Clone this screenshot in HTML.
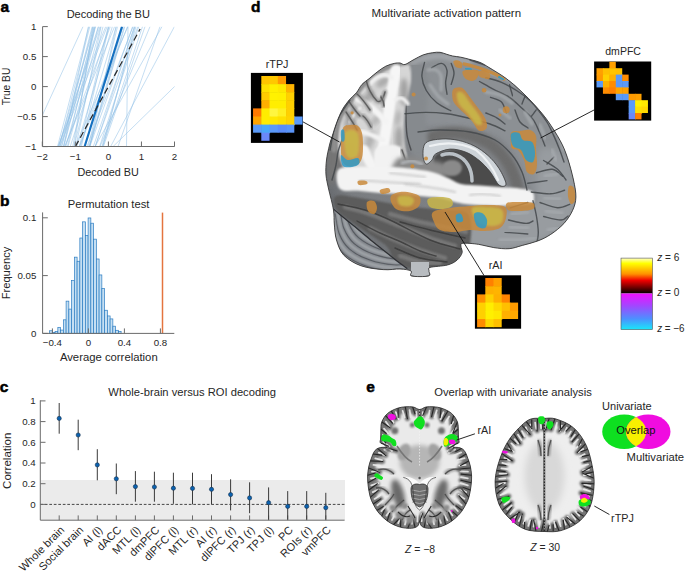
<!DOCTYPE html>
<html><head><meta charset="utf-8"><style>html,body{margin:0;padding:0;background:#fff;overflow:hidden;}svg{display:block}</style></head>
<body><svg width="685" height="571" viewBox="0 0 685 571" font-family="Liberation Sans, sans-serif">
<rect width="685" height="571" fill="#fff"/>
<g id="pa">
<text x="0.4" y="11.9" font-size="15.5" font-weight="bold" fill="#000" stroke="#000" stroke-width="0.5">a</text>
<text x="108.3" y="17.5" font-size="10.8" text-anchor="middle" fill="#262626" textLength="83.3" lengthAdjust="spacingAndGlyphs" >Decoding the BU</text>
<clipPath id="ca"><rect x="42.5" y="26.6" width="132.1" height="120"/></clipPath>
<g clip-path="url(#ca)" stroke="#8fc0e6" stroke-width="0.7" stroke-opacity="0.75" fill="none">
<line x1="79.3" y1="146.6" x2="108.2" y2="26.6"/>
<line x1="63.7" y1="146.6" x2="88.3" y2="26.6"/>
<line x1="57.5" y1="146.6" x2="88.9" y2="26.6"/>
<line x1="95.1" y1="146.6" x2="137.8" y2="26.6"/>
<line x1="89.5" y1="146.6" x2="116.2" y2="26.6"/>
<line x1="88.1" y1="146.6" x2="117.5" y2="26.6"/>
<line x1="63.8" y1="146.6" x2="95.3" y2="26.6"/>
<line x1="99.6" y1="146.6" x2="138.8" y2="26.6"/>
<line x1="59.8" y1="146.6" x2="98.4" y2="26.6"/>
<line x1="89.3" y1="146.6" x2="122.7" y2="26.6"/>
<line x1="72.8" y1="146.6" x2="94.0" y2="26.6"/>
<line x1="57.9" y1="146.6" x2="105.7" y2="26.6"/>
<line x1="59.9" y1="146.6" x2="107.1" y2="26.6"/>
<line x1="61.3" y1="146.6" x2="92.2" y2="26.6"/>
<line x1="103.4" y1="146.6" x2="145.0" y2="26.6"/>
<line x1="76.9" y1="146.6" x2="112.3" y2="26.6"/>
<line x1="63.3" y1="146.6" x2="95.0" y2="26.6"/>
<line x1="64.7" y1="146.6" x2="114.6" y2="26.6"/>
<line x1="89.8" y1="146.6" x2="132.6" y2="26.6"/>
<line x1="95.3" y1="146.6" x2="134.3" y2="26.6"/>
<line x1="75.8" y1="146.6" x2="101.1" y2="26.6"/>
<line x1="79.4" y1="146.6" x2="123.0" y2="26.6"/>
<line x1="75.1" y1="146.6" x2="127.9" y2="26.6"/>
<line x1="102.5" y1="146.6" x2="142.5" y2="26.6"/>
<line x1="102.9" y1="146.6" x2="135.0" y2="26.6"/>
<line x1="74.1" y1="146.6" x2="103.0" y2="26.6"/>
<line x1="89.4" y1="146.6" x2="124.2" y2="26.6"/>
<line x1="68.0" y1="146.6" x2="100.7" y2="26.6"/>
<line x1="74.1" y1="146.6" x2="92.9" y2="26.6"/>
<line x1="80.5" y1="146.6" x2="116.2" y2="26.6"/>
<line x1="58.3" y1="146.6" x2="100.0" y2="26.6"/>
<line x1="81.4" y1="146.6" x2="108.9" y2="26.6"/>
<line x1="67.4" y1="146.6" x2="95.5" y2="26.6"/>
<line x1="93.3" y1="146.6" x2="134.7" y2="26.6"/>
<line x1="61.8" y1="146.6" x2="92.9" y2="26.6"/>
<line x1="89.7" y1="146.6" x2="124.8" y2="26.6"/>
<line x1="58.7" y1="146.6" x2="94.2" y2="26.6"/>
<line x1="86.9" y1="146.6" x2="133.0" y2="26.6"/>
<line x1="59.4" y1="146.6" x2="89.8" y2="26.6"/>
<line x1="70.2" y1="146.6" x2="109.0" y2="26.6"/>
<line x1="79.4" y1="146.6" x2="127.5" y2="26.6"/>
<line x1="101.9" y1="146.6" x2="136.0" y2="26.6"/>
<line x1="64.9" y1="146.6" x2="110.3" y2="26.6"/>
<line x1="65.9" y1="146.6" x2="98.5" y2="26.6"/>
<line x1="28.0" y1="146.6" x2="83.0" y2="26.6"/>
<line x1="113.0" y1="146.6" x2="236.0" y2="26.6"/>
<line x1="110.6" y1="146.6" x2="174.4" y2="26.6"/>
<line x1="126.5" y1="146.6" x2="128.0" y2="26.6"/>
<line x1="118.0" y1="146.6" x2="160.0" y2="26.6"/>
<line x1="100.0" y1="146.6" x2="150.0" y2="26.6"/>
<line x1="95.0" y1="146.6" x2="162.0" y2="26.6"/>
</g>
<g clip-path="url(#ca)">
<line x1="84.6" y1="146.6" x2="122" y2="26.6" stroke="#1470c0" stroke-width="2.1"/>
<line x1="75.35000000000001" y1="146.6" x2="140.128" y2="29.0" stroke="#2a2a2a" stroke-width="1.25" stroke-dasharray="6.5,3.6"/>
</g>
<path d="M42.6,26.6 V146.5 H174.6" stroke="#6b6b6b" stroke-width="1" fill="none"/>
<line x1="42.6" y1="26.599999999999994" x2="47.8" y2="26.599999999999994" stroke="#6b6b6b" stroke-width="1"/>
<text x="36.3" y="29.999999999999993" font-size="9.7" text-anchor="end" fill="#262626" >1</text>
<line x1="42.6" y1="56.599999999999994" x2="47.8" y2="56.599999999999994" stroke="#6b6b6b" stroke-width="1"/>
<text x="36.3" y="59.99999999999999" font-size="9.7" text-anchor="end" fill="#262626" >0.5</text>
<line x1="42.6" y1="86.6" x2="47.8" y2="86.6" stroke="#6b6b6b" stroke-width="1"/>
<text x="36.3" y="90.0" font-size="9.7" text-anchor="end" fill="#262626" >0</text>
<line x1="42.6" y1="116.6" x2="47.8" y2="116.6" stroke="#6b6b6b" stroke-width="1"/>
<text x="36.3" y="120.0" font-size="9.7" text-anchor="end" fill="#262626" >−0.5</text>
<line x1="42.6" y1="146.6" x2="47.8" y2="146.6" stroke="#6b6b6b" stroke-width="1"/>
<text x="36.3" y="150.0" font-size="9.7" text-anchor="end" fill="#262626" >−1</text>
<line x1="42.30000000000001" y1="146.5" x2="42.30000000000001" y2="141.5" stroke="#6b6b6b" stroke-width="1"/>
<text x="42.30000000000001" y="159.5" font-size="9.7" text-anchor="middle" fill="#262626" >−2</text>
<line x1="75.35000000000001" y1="146.5" x2="75.35000000000001" y2="141.5" stroke="#6b6b6b" stroke-width="1"/>
<text x="75.35000000000001" y="159.5" font-size="9.7" text-anchor="middle" fill="#262626" >−1</text>
<line x1="108.4" y1="146.5" x2="108.4" y2="141.5" stroke="#6b6b6b" stroke-width="1"/>
<text x="108.4" y="159.5" font-size="9.7" text-anchor="middle" fill="#262626" >0</text>
<line x1="141.45" y1="146.5" x2="141.45" y2="141.5" stroke="#6b6b6b" stroke-width="1"/>
<text x="141.45" y="159.5" font-size="9.7" text-anchor="middle" fill="#262626" >1</text>
<line x1="174.5" y1="146.5" x2="174.5" y2="141.5" stroke="#6b6b6b" stroke-width="1"/>
<text x="174.5" y="159.5" font-size="9.7" text-anchor="middle" fill="#262626" >2</text>
<text x="108.2" y="176" font-size="10.8" text-anchor="middle" fill="#262626" textLength="61.3" lengthAdjust="spacingAndGlyphs" >Decoded BU</text>
<text transform="translate(10.1,86.5) rotate(-90)" font-size="10.8" text-anchor="middle" fill="#262626" textLength="37.6" lengthAdjust="spacingAndGlyphs">True BU</text>
</g>
<g id="pb">
<text x="0" y="205.6" font-size="15.5" font-weight="bold" fill="#000" stroke="#000" stroke-width="0.5">b</text>
<text x="108.6" y="208.2" font-size="10.8" text-anchor="middle" fill="#262626" textLength="81.8" lengthAdjust="spacingAndGlyphs" >Permutation test</text>
<rect x="49.60" y="330.76" width="2.75" height="2.54" fill="#c5dff3" stroke="#2b7cc2" stroke-width="0.7"/>
<rect x="52.35" y="332.35" width="2.75" height="0.95" fill="#c5dff3" stroke="#2b7cc2" stroke-width="0.7"/>
<rect x="55.10" y="331.44" width="2.75" height="1.86" fill="#c5dff3" stroke="#2b7cc2" stroke-width="0.7"/>
<rect x="57.85" y="327.34" width="2.75" height="5.96" fill="#c5dff3" stroke="#2b7cc2" stroke-width="0.7"/>
<rect x="60.60" y="330.07" width="2.75" height="3.23" fill="#c5dff3" stroke="#2b7cc2" stroke-width="0.7"/>
<rect x="63.35" y="319.82" width="2.75" height="13.48" fill="#c5dff3" stroke="#2b7cc2" stroke-width="0.7"/>
<rect x="66.10" y="301.14" width="2.75" height="32.16" fill="#c5dff3" stroke="#2b7cc2" stroke-width="0.7"/>
<rect x="68.85" y="309.11" width="2.75" height="24.19" fill="#c5dff3" stroke="#2b7cc2" stroke-width="0.7"/>
<rect x="71.60" y="280.63" width="2.75" height="52.67" fill="#c5dff3" stroke="#2b7cc2" stroke-width="0.7"/>
<rect x="74.35" y="257.16" width="2.75" height="76.14" fill="#c5dff3" stroke="#2b7cc2" stroke-width="0.7"/>
<rect x="77.10" y="261.26" width="2.75" height="72.04" fill="#c5dff3" stroke="#2b7cc2" stroke-width="0.7"/>
<rect x="79.85" y="238.02" width="2.75" height="95.28" fill="#c5dff3" stroke="#2b7cc2" stroke-width="0.7"/>
<rect x="82.60" y="221.85" width="2.75" height="111.45" fill="#c5dff3" stroke="#2b7cc2" stroke-width="0.7"/>
<rect x="85.35" y="235.52" width="2.75" height="97.78" fill="#c5dff3" stroke="#2b7cc2" stroke-width="0.7"/>
<rect x="88.10" y="217.97" width="2.75" height="115.33" fill="#c5dff3" stroke="#2b7cc2" stroke-width="0.7"/>
<rect x="90.85" y="223.21" width="2.75" height="110.09" fill="#c5dff3" stroke="#2b7cc2" stroke-width="0.7"/>
<rect x="93.60" y="239.16" width="2.75" height="94.14" fill="#c5dff3" stroke="#2b7cc2" stroke-width="0.7"/>
<rect x="96.35" y="258.99" width="2.75" height="74.31" fill="#c5dff3" stroke="#2b7cc2" stroke-width="0.7"/>
<rect x="99.10" y="274.94" width="2.75" height="58.36" fill="#c5dff3" stroke="#2b7cc2" stroke-width="0.7"/>
<rect x="101.85" y="288.61" width="2.75" height="44.69" fill="#c5dff3" stroke="#2b7cc2" stroke-width="0.7"/>
<rect x="104.60" y="310.25" width="2.75" height="23.05" fill="#c5dff3" stroke="#2b7cc2" stroke-width="0.7"/>
<rect x="107.35" y="315.95" width="2.75" height="17.35" fill="#c5dff3" stroke="#2b7cc2" stroke-width="0.7"/>
<rect x="110.10" y="318.91" width="2.75" height="14.39" fill="#c5dff3" stroke="#2b7cc2" stroke-width="0.7"/>
<rect x="112.85" y="326.20" width="2.75" height="7.10" fill="#c5dff3" stroke="#2b7cc2" stroke-width="0.7"/>
<rect x="115.60" y="330.30" width="2.75" height="3.00" fill="#c5dff3" stroke="#2b7cc2" stroke-width="0.7"/>
<rect x="118.35" y="331.44" width="2.75" height="1.86" fill="#c5dff3" stroke="#2b7cc2" stroke-width="0.7"/>
<line x1="162.5" y1="212.6" x2="162.5" y2="333.3" stroke="#e4743f" stroke-width="1.5"/>
<path d="M42.6,212.4 V333.4 H174.3" stroke="#6b6b6b" stroke-width="1" fill="none"/>
<line x1="42.6" y1="217.79999999999995" x2="47.8" y2="217.79999999999995" stroke="#6b6b6b" stroke-width="1"/>
<text x="36.3" y="221.19999999999996" font-size="9.7" text-anchor="end" fill="#262626" >0.1</text>
<line x1="42.6" y1="275.59999999999997" x2="47.8" y2="275.59999999999997" stroke="#6b6b6b" stroke-width="1"/>
<text x="36.3" y="278.99999999999994" font-size="9.7" text-anchor="end" fill="#262626" >0.05</text>
<line x1="42.6" y1="333.4" x2="47.8" y2="333.4" stroke="#6b6b6b" stroke-width="1"/>
<text x="36.3" y="336.79999999999995" font-size="9.7" text-anchor="end" fill="#262626" >0</text>
<line x1="52.400000000000006" y1="333.4" x2="52.400000000000006" y2="328.4" stroke="#6b6b6b" stroke-width="1"/>
<text x="52.400000000000006" y="345.8" font-size="9.7" text-anchor="middle" fill="#262626" >−0.4</text>
<line x1="88.4" y1="333.4" x2="88.4" y2="328.4" stroke="#6b6b6b" stroke-width="1"/>
<text x="88.4" y="345.8" font-size="9.7" text-anchor="middle" fill="#262626" >0</text>
<line x1="124.4" y1="333.4" x2="124.4" y2="328.4" stroke="#6b6b6b" stroke-width="1"/>
<text x="124.4" y="345.8" font-size="9.7" text-anchor="middle" fill="#262626" >0.4</text>
<line x1="160.4" y1="333.4" x2="160.4" y2="328.4" stroke="#6b6b6b" stroke-width="1"/>
<text x="160.4" y="345.8" font-size="9.7" text-anchor="middle" fill="#262626" >0.8</text>
<text x="108.8" y="360.6" font-size="10.8" text-anchor="middle" fill="#262626" textLength="97.8" lengthAdjust="spacingAndGlyphs" >Average correlation</text>
<text transform="translate(10.1,273) rotate(-90)" font-size="10.8" text-anchor="middle" fill="#262626" textLength="52.5" lengthAdjust="spacingAndGlyphs">Frequency</text>
</g>
<g id="pc">
<text x="-0.2" y="392" font-size="15.5" font-weight="bold" fill="#000" stroke="#000" stroke-width="0.5">c</text>
<text x="192.2" y="396.2" font-size="10.8" text-anchor="middle" fill="#262626" textLength="167.7" lengthAdjust="spacingAndGlyphs" >Whole-brain versus ROI decoding</text>
<rect x="40.3" y="480" width="304.7" height="40.2" fill="#ebebeb"/>
<line x1="40.3" y1="504.4" x2="344.6" y2="504.4" stroke="#333" stroke-width="0.9" stroke-dasharray="2.7,1.8"/>
<path d="M40.3,400.3 V520.2 H344.6" stroke="#6b6b6b" stroke-width="1" fill="none"/>
<line x1="40.3" y1="400.9" x2="45.5" y2="400.9" stroke="#6b6b6b" stroke-width="1"/>
<text x="35.7" y="404.29999999999995" font-size="9.7" text-anchor="end" fill="#262626" >1</text>
<line x1="40.3" y1="421.59999999999997" x2="45.5" y2="421.59999999999997" stroke="#6b6b6b" stroke-width="1"/>
<text x="35.7" y="424.99999999999994" font-size="9.7" text-anchor="end" fill="#262626" >0.8</text>
<line x1="40.3" y1="442.29999999999995" x2="45.5" y2="442.29999999999995" stroke="#6b6b6b" stroke-width="1"/>
<text x="35.7" y="445.69999999999993" font-size="9.7" text-anchor="end" fill="#262626" >0.6</text>
<line x1="40.3" y1="463.0" x2="45.5" y2="463.0" stroke="#6b6b6b" stroke-width="1"/>
<text x="35.7" y="466.4" font-size="9.7" text-anchor="end" fill="#262626" >0.4</text>
<line x1="40.3" y1="483.7" x2="45.5" y2="483.7" stroke="#6b6b6b" stroke-width="1"/>
<text x="35.7" y="487.09999999999997" font-size="9.7" text-anchor="end" fill="#262626" >0.2</text>
<line x1="40.3" y1="504.4" x2="45.5" y2="504.4" stroke="#6b6b6b" stroke-width="1"/>
<text x="35.7" y="507.79999999999995" font-size="9.7" text-anchor="end" fill="#262626" >0</text>
<line x1="59.2" y1="520.2" x2="59.2" y2="515.4" stroke="#6b6b6b" stroke-width="1"/>
<line x1="59.2" y1="403.0" x2="59.2" y2="433.7" stroke="#3a3a3a" stroke-width="1"/>
<circle cx="59.2" cy="418.4" r="2.1" fill="#0b62b0" stroke="#15304d" stroke-width="0.6"/>
<text transform="translate(65.0,530.6) rotate(-45)" font-size="11" text-anchor="end" fill="#262626">Whole brain</text>
<line x1="78.2" y1="520.2" x2="78.2" y2="515.4" stroke="#6b6b6b" stroke-width="1"/>
<line x1="78.2" y1="419.7" x2="78.2" y2="450.2" stroke="#3a3a3a" stroke-width="1"/>
<circle cx="78.2" cy="435.0" r="2.1" fill="#0b62b0" stroke="#15304d" stroke-width="0.6"/>
<text transform="translate(84.0,530.6) rotate(-45)" font-size="11" text-anchor="end" fill="#262626">Social brain</text>
<line x1="97.3" y1="520.2" x2="97.3" y2="515.4" stroke="#6b6b6b" stroke-width="1"/>
<line x1="97.3" y1="449.2" x2="97.3" y2="480.3" stroke="#3a3a3a" stroke-width="1"/>
<circle cx="97.3" cy="464.9" r="2.1" fill="#0b62b0" stroke="#15304d" stroke-width="0.6"/>
<text transform="translate(103.1,530.6) rotate(-45)" font-size="11" text-anchor="end" fill="#262626">AI (l)</text>
<line x1="116.3" y1="520.2" x2="116.3" y2="515.4" stroke="#6b6b6b" stroke-width="1"/>
<line x1="116.3" y1="463.5" x2="116.3" y2="494.2" stroke="#3a3a3a" stroke-width="1"/>
<circle cx="116.3" cy="478.8" r="2.1" fill="#0b62b0" stroke="#15304d" stroke-width="0.6"/>
<text transform="translate(122.1,530.6) rotate(-45)" font-size="11" text-anchor="end" fill="#262626">dACC</text>
<line x1="135.4" y1="520.2" x2="135.4" y2="515.4" stroke="#6b6b6b" stroke-width="1"/>
<line x1="135.4" y1="471.1" x2="135.4" y2="501.7" stroke="#3a3a3a" stroke-width="1"/>
<circle cx="135.4" cy="486.6" r="2.1" fill="#0b62b0" stroke="#15304d" stroke-width="0.6"/>
<text transform="translate(141.2,530.6) rotate(-45)" font-size="11" text-anchor="end" fill="#262626">MTL (l)</text>
<line x1="154.4" y1="520.2" x2="154.4" y2="515.4" stroke="#6b6b6b" stroke-width="1"/>
<line x1="154.4" y1="471.7" x2="154.4" y2="501.7" stroke="#3a3a3a" stroke-width="1"/>
<circle cx="154.4" cy="487.0" r="2.1" fill="#0b62b0" stroke="#15304d" stroke-width="0.6"/>
<text transform="translate(160.2,530.6) rotate(-45)" font-size="11" text-anchor="end" fill="#262626">dmPFC</text>
<line x1="173.4" y1="520.2" x2="173.4" y2="515.4" stroke="#6b6b6b" stroke-width="1"/>
<line x1="173.4" y1="472.7" x2="173.4" y2="503.8" stroke="#3a3a3a" stroke-width="1"/>
<circle cx="173.4" cy="488.2" r="2.1" fill="#0b62b0" stroke="#15304d" stroke-width="0.6"/>
<text transform="translate(179.2,530.6) rotate(-45)" font-size="11" text-anchor="end" fill="#262626">dlPFC (l)</text>
<line x1="192.5" y1="520.2" x2="192.5" y2="515.4" stroke="#6b6b6b" stroke-width="1"/>
<line x1="192.5" y1="472.7" x2="192.5" y2="504.4" stroke="#3a3a3a" stroke-width="1"/>
<circle cx="192.5" cy="488.4" r="2.1" fill="#0b62b0" stroke="#15304d" stroke-width="0.6"/>
<text transform="translate(198.3,530.6) rotate(-45)" font-size="11" text-anchor="end" fill="#262626">MTL (r)</text>
<line x1="211.5" y1="520.2" x2="211.5" y2="515.4" stroke="#6b6b6b" stroke-width="1"/>
<line x1="211.5" y1="474.2" x2="211.5" y2="504.4" stroke="#3a3a3a" stroke-width="1"/>
<circle cx="211.5" cy="489.3" r="2.1" fill="#0b62b0" stroke="#15304d" stroke-width="0.6"/>
<text transform="translate(217.3,530.6) rotate(-45)" font-size="11" text-anchor="end" fill="#262626">AI (r)</text>
<line x1="230.6" y1="520.2" x2="230.6" y2="515.4" stroke="#6b6b6b" stroke-width="1"/>
<line x1="230.6" y1="479.3" x2="230.6" y2="510.4" stroke="#3a3a3a" stroke-width="1"/>
<circle cx="230.6" cy="494.6" r="2.1" fill="#0b62b0" stroke="#15304d" stroke-width="0.6"/>
<text transform="translate(236.4,530.6) rotate(-45)" font-size="11" text-anchor="end" fill="#262626">dlPFC (r)</text>
<line x1="249.6" y1="520.2" x2="249.6" y2="515.4" stroke="#6b6b6b" stroke-width="1"/>
<line x1="249.6" y1="482.3" x2="249.6" y2="513.2" stroke="#3a3a3a" stroke-width="1"/>
<circle cx="249.6" cy="497.9" r="2.1" fill="#0b62b0" stroke="#15304d" stroke-width="0.6"/>
<text transform="translate(255.4,530.6) rotate(-45)" font-size="11" text-anchor="end" fill="#262626">TPJ (r)</text>
<line x1="268.6" y1="520.2" x2="268.6" y2="515.4" stroke="#6b6b6b" stroke-width="1"/>
<line x1="268.6" y1="487.4" x2="268.6" y2="519.6" stroke="#3a3a3a" stroke-width="1"/>
<circle cx="268.6" cy="502.7" r="2.1" fill="#0b62b0" stroke="#15304d" stroke-width="0.6"/>
<text transform="translate(274.4,530.6) rotate(-45)" font-size="11" text-anchor="end" fill="#262626">TPJ (l)</text>
<line x1="287.7" y1="520.2" x2="287.7" y2="515.4" stroke="#6b6b6b" stroke-width="1"/>
<line x1="287.7" y1="491.1" x2="287.7" y2="519.6" stroke="#3a3a3a" stroke-width="1"/>
<circle cx="287.7" cy="506.4" r="2.1" fill="#0b62b0" stroke="#15304d" stroke-width="0.6"/>
<text transform="translate(293.5,530.6) rotate(-45)" font-size="11" text-anchor="end" fill="#262626">PC</text>
<line x1="306.7" y1="520.2" x2="306.7" y2="515.4" stroke="#6b6b6b" stroke-width="1"/>
<line x1="306.7" y1="491.1" x2="306.7" y2="519.6" stroke="#3a3a3a" stroke-width="1"/>
<circle cx="306.7" cy="506.4" r="2.1" fill="#0b62b0" stroke="#15304d" stroke-width="0.6"/>
<text transform="translate(312.5,530.6) rotate(-45)" font-size="11" text-anchor="end" fill="#262626">ROIs (r)</text>
<line x1="325.8" y1="520.2" x2="325.8" y2="515.4" stroke="#6b6b6b" stroke-width="1"/>
<line x1="325.8" y1="492.8" x2="325.8" y2="519.6" stroke="#3a3a3a" stroke-width="1"/>
<circle cx="325.8" cy="507.7" r="2.1" fill="#0b62b0" stroke="#15304d" stroke-width="0.6"/>
<text transform="translate(331.6,530.6) rotate(-45)" font-size="11" text-anchor="end" fill="#262626">vmPFC</text>
<text transform="translate(11.3,460.8) rotate(-90)" font-size="10.8" text-anchor="middle" fill="#262626" textLength="56.2" lengthAdjust="spacingAndGlyphs">Correlation</text>
</g>
<g id="pd">
<text x="251" y="11.5" font-size="15.5" font-weight="bold" fill="#000" stroke="#000" stroke-width="0.5">d</text>
<text x="446.3" y="16.6" font-size="10" text-anchor="middle" fill="#262626" textLength="149.5" lengthAdjust="spacingAndGlyphs" >Multivariate activation pattern</text>
<defs>
<filter id="bl1" x="-20%" y="-20%" width="140%" height="140%"><feGaussianBlur stdDeviation="1"/></filter>
<filter id="bl2" x="-20%" y="-20%" width="140%" height="140%"><feGaussianBlur stdDeviation="2"/></filter>
<filter id="bl3" x="-30%" y="-30%" width="160%" height="160%"><feGaussianBlur stdDeviation="3.5"/></filter>
<filter id="bl05"><feGaussianBlur stdDeviation="0.5"/></filter>
<filter id="bl03"><feGaussianBlur stdDeviation="0.3"/></filter>
<radialGradient id="brg" cx="0.55" cy="0.45" r="0.6"><stop offset="0" stop-color="#808387"/><stop offset="0.8" stop-color="#7a7d81"/><stop offset="1" stop-color="#626569"/></radialGradient>
<clipPath id="cbr"><path d="M326.5,160.0 C327.1,155.0 328.5,149.2 329.5,145.0 C330.5,140.8 331.4,138.8 332.6,135.0 C333.8,131.2 335.2,126.5 336.8,122.3 C338.4,118.1 340.3,113.3 342.4,109.6 C344.5,105.8 347.1,102.6 349.4,99.8 C351.7,97.0 354.3,95.4 356.4,92.8 C358.5,90.2 359.9,86.7 362.0,84.4 C364.1,82.1 366.4,80.9 369.0,78.8 C371.6,76.7 374.6,73.9 377.4,71.8 C380.2,69.7 383.0,67.6 385.8,66.2 C388.6,64.8 391.9,63.9 394.3,63.4 C396.7,62.9 398.2,62.8 400.0,63.0 C401.8,63.2 402.7,65.1 405.0,64.5 C407.3,63.9 410.9,61.1 414.0,59.5 C417.1,57.9 420.3,55.9 423.4,54.8 C426.5,53.7 429.9,53.1 432.7,52.7 C435.5,52.3 437.7,52.0 440.0,52.3 C442.3,52.6 444.6,53.7 446.7,54.3 C448.8,54.9 450.3,55.5 452.6,56.0 C454.9,56.5 457.8,56.6 460.7,57.2 C463.6,57.8 466.8,58.6 470.0,59.5 C473.2,60.4 476.8,61.1 480.0,62.4 C483.2,63.7 484.6,64.8 489.0,67.5 C493.4,70.2 500.9,74.6 506.2,78.5 C511.5,82.4 516.0,86.4 520.9,91.0 C525.8,95.6 531.1,101.0 535.6,106.0 C540.1,111.0 543.7,115.2 547.8,120.9 C551.9,126.7 556.8,134.4 560.1,140.5 C563.4,146.6 565.2,151.0 567.4,157.6 C569.6,164.2 572.1,173.4 573.5,180.0 C574.9,186.6 576.0,191.9 575.9,197.0 C575.8,202.1 574.6,206.0 572.6,210.4 C570.6,214.8 567.5,219.5 563.9,223.5 C560.2,227.5 555.1,231.5 550.7,234.4 C546.3,237.3 542.3,239.2 537.6,241.0 C532.9,242.8 527.0,244.1 522.3,245.4 C517.5,246.7 513.9,248.3 509.1,248.7 C504.4,249.1 498.9,248.3 493.8,247.6 C488.7,246.9 483.6,245.0 478.5,244.3 C473.4,243.6 466.0,242.9 463.1,243.2 C460.2,243.5 461.1,244.4 460.9,246.0 C460.7,247.6 462.7,250.4 462.1,252.7 C461.5,255.0 459.6,257.9 457.2,260.0 C454.8,262.1 451.9,263.8 447.4,265.0 C442.9,266.2 433.4,266.4 430.3,267.4 C427.2,268.4 429.3,269.6 429.0,271.0 C428.7,272.4 431.4,275.2 428.5,276.0 C425.6,276.8 414.4,276.8 411.5,276.0 C408.6,275.2 412.9,272.2 411.0,271.0 C409.1,269.8 404.6,269.2 400.0,269.0 C395.4,268.8 389.7,270.2 383.2,269.6 C376.7,269.1 367.4,268.1 360.8,265.7 C354.2,263.3 347.9,259.5 343.8,255.2 C339.8,250.9 338.1,245.2 336.5,240.0 C334.9,234.8 334.8,229.0 334.3,224.0 C333.8,219.0 334.4,215.8 333.5,210.0 C332.6,204.2 329.9,194.8 328.6,189.0 C327.4,183.2 326.4,179.8 326.0,175.0 C325.6,170.2 325.9,165.0 326.5,160.0Z"/></clipPath>
</defs>
<path d="M326.5,160.0 C327.1,155.0 328.5,149.2 329.5,145.0 C330.5,140.8 331.4,138.8 332.6,135.0 C333.8,131.2 335.2,126.5 336.8,122.3 C338.4,118.1 340.3,113.3 342.4,109.6 C344.5,105.8 347.1,102.6 349.4,99.8 C351.7,97.0 354.3,95.4 356.4,92.8 C358.5,90.2 359.9,86.7 362.0,84.4 C364.1,82.1 366.4,80.9 369.0,78.8 C371.6,76.7 374.6,73.9 377.4,71.8 C380.2,69.7 383.0,67.6 385.8,66.2 C388.6,64.8 391.9,63.9 394.3,63.4 C396.7,62.9 398.2,62.8 400.0,63.0 C401.8,63.2 402.7,65.1 405.0,64.5 C407.3,63.9 410.9,61.1 414.0,59.5 C417.1,57.9 420.3,55.9 423.4,54.8 C426.5,53.7 429.9,53.1 432.7,52.7 C435.5,52.3 437.7,52.0 440.0,52.3 C442.3,52.6 444.6,53.7 446.7,54.3 C448.8,54.9 450.3,55.5 452.6,56.0 C454.9,56.5 457.8,56.6 460.7,57.2 C463.6,57.8 466.8,58.6 470.0,59.5 C473.2,60.4 476.8,61.1 480.0,62.4 C483.2,63.7 484.6,64.8 489.0,67.5 C493.4,70.2 500.9,74.6 506.2,78.5 C511.5,82.4 516.0,86.4 520.9,91.0 C525.8,95.6 531.1,101.0 535.6,106.0 C540.1,111.0 543.7,115.2 547.8,120.9 C551.9,126.7 556.8,134.4 560.1,140.5 C563.4,146.6 565.2,151.0 567.4,157.6 C569.6,164.2 572.1,173.4 573.5,180.0 C574.9,186.6 576.0,191.9 575.9,197.0 C575.8,202.1 574.6,206.0 572.6,210.4 C570.6,214.8 567.5,219.5 563.9,223.5 C560.2,227.5 555.1,231.5 550.7,234.4 C546.3,237.3 542.3,239.2 537.6,241.0 C532.9,242.8 527.0,244.1 522.3,245.4 C517.5,246.7 513.9,248.3 509.1,248.7 C504.4,249.1 498.9,248.3 493.8,247.6 C488.7,246.9 483.6,245.0 478.5,244.3 C473.4,243.6 466.0,242.9 463.1,243.2 C460.2,243.5 461.1,244.4 460.9,246.0 C460.7,247.6 462.7,250.4 462.1,252.7 C461.5,255.0 459.6,257.9 457.2,260.0 C454.8,262.1 451.9,263.8 447.4,265.0 C442.9,266.2 433.4,266.4 430.3,267.4 C427.2,268.4 429.3,269.6 429.0,271.0 C428.7,272.4 431.4,275.2 428.5,276.0 C425.6,276.8 414.4,276.8 411.5,276.0 C408.6,275.2 412.9,272.2 411.0,271.0 C409.1,269.8 404.6,269.2 400.0,269.0 C395.4,268.8 389.7,270.2 383.2,269.6 C376.7,269.1 367.4,268.1 360.8,265.7 C354.2,263.3 347.9,259.5 343.8,255.2 C339.8,250.9 338.1,245.2 336.5,240.0 C334.9,234.8 334.8,229.0 334.3,224.0 C333.8,219.0 334.4,215.8 333.5,210.0 C332.6,204.2 329.9,194.8 328.6,189.0 C327.4,183.2 326.4,179.8 326.0,175.0 C325.6,170.2 325.9,165.0 326.5,160.0Z" fill="url(#brg)"/>
<g clip-path="url(#cbr)">
<path d="M420.0,58.0 C425.3,46.3 438.3,49.3 450.0,50.0 C461.7,50.7 476.7,55.3 490.0,62.0 C503.3,68.7 518.3,77.8 530.0,90.0 C541.7,102.2 552.5,119.2 560.0,135.0 C567.5,150.8 575.0,174.2 575.0,185.0 C575.0,195.8 567.5,199.2 560.0,200.0 C552.5,200.8 537.5,196.7 530.0,190.0 C522.5,183.3 520.0,168.3 515.0,160.0 C510.0,151.7 507.5,145.0 500.0,140.0 C492.5,135.0 480.0,132.0 470.0,130.0 C460.0,128.0 448.7,129.7 440.0,128.0 C431.3,126.3 421.3,131.7 418.0,120.0 C414.7,108.3 414.7,69.7 420.0,58.0Z" fill="#8c9094" opacity="1" filter="url(#bl3)"/>
<path d="M540.0,150.0 C545.8,143.3 563.7,151.7 570.0,160.0 C576.3,168.3 578.8,188.7 578.0,200.0 C577.2,211.3 573.0,220.3 565.0,228.0 C557.0,235.7 542.5,242.3 530.0,246.0 C517.5,249.7 500.7,250.3 490.0,250.0 C479.3,249.7 469.3,249.8 466.0,244.0 C462.7,238.2 462.7,221.0 470.0,215.0 C477.3,209.0 499.2,210.5 510.0,208.0 C520.8,205.5 530.0,209.7 535.0,200.0 C540.0,190.3 534.2,156.7 540.0,150.0Z" fill="#989ca0" opacity="1" filter="url(#bl3)"/>
<path d="M418.0,145.0 C421.7,143.2 432.2,135.8 440.0,134.0 C447.8,132.2 456.7,132.3 465.0,134.0 C473.3,135.7 483.2,139.7 490.0,144.0 C496.8,148.3 501.8,154.3 506.0,160.0 C510.2,165.7 513.0,172.7 515.0,178.0 C517.0,183.3 517.5,189.7 518.0,192.0" stroke="#6c6c6c" stroke-width="12" fill="none" stroke-linecap="round" opacity="1" filter="url(#bl2)"/>
<path d="M434.0,158.0 C435.7,152.7 444.0,151.0 450.0,150.0 C456.0,149.0 464.2,150.0 470.0,152.0 C475.8,154.0 480.7,157.7 485.0,162.0 C489.3,166.3 493.0,173.3 496.0,178.0 C499.0,182.7 507.3,188.0 503.0,190.0 C498.7,192.0 480.5,191.3 470.0,190.0 C459.5,188.7 446.0,187.3 440.0,182.0 C434.0,176.7 432.3,163.3 434.0,158.0Z" fill="#4c4c4c" opacity="1" filter="url(#bl1)"/>
<path d="M327.0,150.0 C327.3,140.5 329.8,134.3 332.0,128.0 C334.2,121.7 337.3,113.7 340.0,112.0 C342.7,110.3 347.3,113.3 348.0,118.0 C348.7,122.7 345.3,131.3 344.0,140.0 C342.7,148.7 342.3,162.5 340.0,170.0 C337.7,177.5 332.2,188.3 330.0,185.0 C327.8,181.7 326.7,159.5 327.0,150.0Z" fill="#747474" opacity="1" filter="url(#bl2)"/>
<path d="M336.0,196.0 C339.8,194.0 349.3,196.5 360.0,198.0 C370.7,199.5 386.7,203.0 400.0,205.0 C413.3,207.0 428.7,208.5 440.0,210.0 C451.3,211.5 463.0,208.3 468.0,214.0 C473.0,219.7 471.0,237.7 470.0,244.0 C469.0,250.3 464.0,249.0 462.0,252.0 C460.0,255.0 460.8,259.7 458.0,262.0 C455.2,264.3 449.7,265.0 445.0,266.0 C440.3,267.0 435.8,267.7 430.0,268.0 C424.2,268.3 415.7,268.7 410.0,268.0 C404.3,267.3 399.7,267.3 396.0,264.0 C392.3,260.7 391.0,252.0 388.0,248.0 C385.0,244.0 383.3,243.8 378.0,240.0 C372.7,236.2 362.8,230.0 356.0,225.0 C349.2,220.0 340.3,214.8 337.0,210.0 C333.7,205.2 332.2,198.0 336.0,196.0Z" fill="#5c5c5c" opacity="1" filter="url(#bl1)"/>
<path d="M345.0,207.0 C349.2,208.2 360.8,210.8 370.0,214.0 C379.2,217.2 390.0,222.0 400.0,226.0 C410.0,230.0 420.8,234.7 430.0,238.0 C439.2,241.3 450.8,244.7 455.0,246.0" stroke="#7c7c7c" stroke-width="4.5" fill="none" stroke-linecap="round" opacity="0.9" filter="url(#bl1)"/>
<path d="M370.0,228.0 C374.2,230.0 386.7,236.3 395.0,240.0 C403.3,243.7 411.7,247.0 420.0,250.0 C428.3,253.0 440.8,256.7 445.0,258.0" stroke="#7c7c7c" stroke-width="4.5" fill="none" stroke-linecap="round" opacity="0.9" filter="url(#bl1)"/>
<path d="M390.0,214.0 C395.0,215.3 410.0,219.7 420.0,222.0 C430.0,224.3 442.3,226.3 450.0,228.0 C457.7,229.7 463.3,231.3 466.0,232.0" stroke="#7c7c7c" stroke-width="4.5" fill="none" stroke-linecap="round" opacity="0.9" filter="url(#bl1)"/>
<path d="M400.0,256.0 C403.3,257.0 413.3,260.8 420.0,262.0 C426.7,263.2 436.7,262.8 440.0,263.0" stroke="#7c7c7c" stroke-width="4.5" fill="none" stroke-linecap="round" opacity="0.9" filter="url(#bl1)"/>
<path d="M338.0,204.0 C342.5,205.0 356.3,207.3 365.0,210.0 C373.7,212.7 379.2,215.0 390.0,220.0 C400.8,225.0 418.3,235.2 430.0,240.0 C441.7,244.8 455.0,247.5 460.0,249.0" stroke="#3a3a3a" stroke-width="1.4" fill="none" stroke-linecap="round" opacity="0.85" filter="url(#bl05)"/>
<path d="M357.0,221.0 C360.8,223.0 373.0,229.7 380.0,233.0 C387.0,236.3 392.3,238.0 399.0,241.0 C405.7,244.0 413.8,248.5 420.0,251.0 C426.2,253.5 433.3,255.2 436.0,256.0" stroke="#3a3a3a" stroke-width="1.4" fill="none" stroke-linecap="round" opacity="0.85" filter="url(#bl05)"/>
<path d="M395.0,248.0 C399.2,249.7 411.3,255.7 420.0,258.0 C428.7,260.3 442.5,261.3 447.0,262.0" stroke="#3a3a3a" stroke-width="1.4" fill="none" stroke-linecap="round" opacity="0.85" filter="url(#bl05)"/>
<path d="M400.0,222.0 C405.0,223.3 419.2,227.3 430.0,230.0 C440.8,232.7 459.2,236.7 465.0,238.0" stroke="#3a3a3a" stroke-width="1.4" fill="none" stroke-linecap="round" opacity="0.85" filter="url(#bl05)"/>
<clipPath id="ccer"><path d="M333.5,209.0 C334.4,207.1 336.3,211.6 339.8,214.5 C343.3,217.4 349.3,222.2 354.3,226.3 C359.3,230.5 365.2,235.5 370.0,239.4 C374.8,243.3 378.8,246.5 383.2,250.0 C387.6,253.5 392.4,257.3 396.3,260.4 C400.2,263.4 406.6,267.0 406.8,268.3 C407.0,269.6 401.5,268.1 397.6,268.3 C393.7,268.5 389.3,270.0 383.2,269.6 C377.1,269.2 367.4,268.1 360.8,265.7 C354.2,263.3 347.9,259.5 343.8,255.2 C339.8,250.9 338.1,244.9 336.5,240.0 C334.9,235.1 335.0,231.2 334.5,226.0 C334.0,220.8 332.6,210.9 333.5,209.0Z"/></clipPath>
<path d="M333.5,209.0 C334.4,207.1 336.3,211.6 339.8,214.5 C343.3,217.4 349.3,222.2 354.3,226.3 C359.3,230.5 365.2,235.5 370.0,239.4 C374.8,243.3 378.8,246.5 383.2,250.0 C387.6,253.5 392.4,257.3 396.3,260.4 C400.2,263.4 406.6,267.0 406.8,268.3 C407.0,269.6 401.5,268.1 397.6,268.3 C393.7,268.5 389.3,270.0 383.2,269.6 C377.1,269.2 367.4,268.1 360.8,265.7 C354.2,263.3 347.9,259.5 343.8,255.2 C339.8,250.9 338.1,244.9 336.5,240.0 C334.9,235.1 335.0,231.2 334.5,226.0 C334.0,220.8 332.6,210.9 333.5,209.0Z" fill="#7e8288" opacity="1" filter="url(#bl05)"/>
<g clip-path="url(#ccer)">
<path d="M328.2,222.3 C328.9,225.6 329.9,236.5 332.2,242.3 C334.6,248.1 337.2,253.0 342.2,257.3 C347.2,261.6 354.8,265.6 362.2,268.3 C369.8,271.0 378.9,272.8 387.2,273.3 C395.6,273.8 408.1,271.6 412.2,271.3" stroke="#a6aaae" stroke-width="3.2" fill="none" stroke-linecap="round" opacity="0.9" filter="url(#bl1)"/>
<path d="M330.6,219.4 C331.3,222.8 332.3,233.6 334.6,239.4 C337.0,245.3 339.6,250.1 344.6,254.4 C349.6,258.8 357.1,262.8 364.6,265.4 C372.1,268.1 381.3,269.9 389.6,270.4 C398.0,270.9 410.5,268.8 414.6,268.4" stroke="#50545a" stroke-width="1.1" fill="none" stroke-linecap="round" opacity="0.9" filter="url(#bl05)"/>
<path d="M332.9,216.7 C333.6,220.1 334.6,230.9 336.9,236.7 C339.2,242.6 341.9,247.4 346.9,251.7 C351.9,256.1 359.4,260.1 366.9,262.7 C374.4,265.4 383.6,267.2 391.9,267.7 C400.2,268.2 412.7,266.1 416.9,265.7" stroke="#a6aaae" stroke-width="3.2" fill="none" stroke-linecap="round" opacity="0.9" filter="url(#bl1)"/>
<path d="M335.3,213.8 C336.0,217.2 337.0,228.0 339.3,233.8 C341.6,239.7 344.3,244.5 349.3,248.8 C354.3,253.2 361.8,257.2 369.3,259.8 C376.8,262.5 386.0,264.3 394.3,264.8 C402.6,265.3 415.1,263.2 419.3,262.8" stroke="#50545a" stroke-width="1.1" fill="none" stroke-linecap="round" opacity="0.9" filter="url(#bl05)"/>
<path d="M337.6,211.1 C338.2,214.5 339.2,225.3 341.6,231.1 C343.9,237.0 346.6,241.8 351.6,246.1 C356.6,250.5 364.1,254.5 371.6,257.1 C379.1,259.8 388.2,261.6 396.6,262.1 C404.9,262.6 417.4,260.5 421.6,260.1" stroke="#a6aaae" stroke-width="3.2" fill="none" stroke-linecap="round" opacity="0.9" filter="url(#bl1)"/>
<path d="M339.9,208.3 C340.6,211.6 341.6,222.4 343.9,228.3 C346.3,234.1 348.9,238.9 353.9,243.3 C358.9,247.6 366.4,251.6 373.9,254.3 C381.4,256.9 390.6,258.8 398.9,259.3 C407.3,259.8 419.8,257.6 423.9,257.3" stroke="#50545a" stroke-width="1.1" fill="none" stroke-linecap="round" opacity="0.9" filter="url(#bl05)"/>
<path d="M342.2,205.6 C342.9,208.9 343.9,219.7 346.2,225.6 C348.5,231.4 351.2,236.2 356.2,240.6 C361.2,244.9 368.7,248.9 376.2,251.6 C383.7,254.2 392.9,256.1 401.2,256.6 C409.5,257.1 422.0,254.9 426.2,254.6" stroke="#a6aaae" stroke-width="3.2" fill="none" stroke-linecap="round" opacity="0.9" filter="url(#bl1)"/>
<path d="M344.6,202.7 C345.3,206.0 346.3,216.8 348.6,222.7 C350.9,228.5 353.6,233.3 358.6,237.7 C363.6,242.0 371.1,246.0 378.6,248.7 C386.1,251.3 395.3,253.2 403.6,253.7 C411.9,254.2 424.4,252.0 428.6,251.7" stroke="#50545a" stroke-width="1.1" fill="none" stroke-linecap="round" opacity="0.9" filter="url(#bl05)"/>
<path d="M346.9,200.0 C347.5,203.3 348.5,214.1 350.9,220.0 C353.2,225.8 355.9,230.6 360.9,235.0 C365.9,239.3 373.4,243.3 380.9,246.0 C388.4,248.6 397.5,250.5 405.9,251.0 C414.2,251.5 426.7,249.3 430.9,249.0" stroke="#a6aaae" stroke-width="3.2" fill="none" stroke-linecap="round" opacity="0.9" filter="url(#bl1)"/>
<path d="M349.2,197.1 C349.9,200.4 350.9,211.3 353.2,217.1 C355.6,222.9 358.2,227.8 363.2,232.1 C368.2,236.4 375.8,240.4 383.2,243.1 C390.8,245.8 399.9,247.6 408.2,248.1 C416.6,248.6 429.1,246.4 433.2,246.1" stroke="#50545a" stroke-width="1.1" fill="none" stroke-linecap="round" opacity="0.9" filter="url(#bl05)"/>
<path d="M351.5,194.4 C352.2,197.7 353.2,208.6 355.5,214.4 C357.8,220.2 360.5,225.1 365.5,229.4 C370.5,233.7 378.0,237.7 385.5,240.4 C393.0,243.1 402.2,244.9 410.5,245.4 C418.8,245.9 431.3,243.7 435.5,243.4" stroke="#a6aaae" stroke-width="3.2" fill="none" stroke-linecap="round" opacity="0.9" filter="url(#bl1)"/>
<path d="M353.9,191.5 C354.6,194.9 355.6,205.7 357.9,211.5 C360.2,217.4 362.9,222.2 367.9,226.5 C372.9,230.9 380.4,234.9 387.9,237.5 C395.4,240.2 404.6,242.0 412.9,242.5 C421.2,243.0 433.7,240.9 437.9,240.5" stroke="#50545a" stroke-width="1.1" fill="none" stroke-linecap="round" opacity="0.9" filter="url(#bl05)"/>
<path d="M356.1,188.8 C356.8,192.2 357.8,203.0 360.1,208.8 C362.5,214.7 365.1,219.5 370.1,223.8 C375.1,228.2 382.6,232.2 390.1,234.8 C397.6,237.5 406.8,239.3 415.1,239.8 C423.5,240.3 436.0,238.2 440.1,237.8" stroke="#a6aaae" stroke-width="3.2" fill="none" stroke-linecap="round" opacity="0.9" filter="url(#bl1)"/>
<path d="M358.6,185.9 C359.2,189.3 360.2,200.1 362.6,205.9 C364.9,211.8 367.6,216.6 372.6,220.9 C377.6,225.3 385.1,229.3 392.6,231.9 C400.1,234.6 409.2,236.4 417.6,236.9 C425.9,237.4 438.4,235.3 442.6,234.9" stroke="#50545a" stroke-width="1.1" fill="none" stroke-linecap="round" opacity="0.9" filter="url(#bl05)"/>
<path d="M360.8,183.2 C361.5,186.6 362.5,197.4 364.8,203.2 C367.1,209.1 369.8,213.9 374.8,218.2 C379.8,222.6 387.3,226.6 394.8,229.2 C402.3,231.9 411.5,233.7 419.8,234.2 C428.1,234.7 440.6,232.6 444.8,232.2" stroke="#a6aaae" stroke-width="3.2" fill="none" stroke-linecap="round" opacity="0.9" filter="url(#bl1)"/>
<path d="M363.2,180.4 C363.9,183.7 364.9,194.5 367.2,200.4 C369.5,206.2 372.2,211.0 377.2,215.4 C382.2,219.7 389.7,223.7 397.2,226.4 C404.7,229.0 413.9,230.9 422.2,231.4 C430.5,231.9 443.0,229.7 447.2,229.4" stroke="#50545a" stroke-width="1.1" fill="none" stroke-linecap="round" opacity="0.9" filter="url(#bl05)"/>
</g>
<path d="M333.5,209.0 C334.6,209.9 336.3,211.6 339.8,214.5 C343.3,217.4 349.3,222.2 354.3,226.3 C359.3,230.5 365.2,235.5 370.0,239.4 C374.8,243.3 378.8,246.5 383.2,250.0 C387.6,253.5 392.4,257.3 396.3,260.4 C400.2,263.4 405.1,267.0 406.8,268.3" stroke="#2e3034" stroke-width="1.3" fill="none" stroke-linecap="round" opacity="1" filter="url(#bl05)"/>
<path d="M404.0,70.0 C406.8,60.3 416.0,60.3 420.0,62.0 C424.0,63.7 427.0,70.3 428.0,80.0 C429.0,89.7 426.0,108.3 426.0,120.0 C426.0,131.7 429.0,143.3 428.0,150.0 C427.0,156.7 423.0,160.0 420.0,160.0 C417.0,160.0 412.8,156.7 410.0,150.0 C407.2,143.3 404.0,133.3 403.0,120.0 C402.0,106.7 401.2,79.7 404.0,70.0Z" fill="#868a8e" opacity="1" filter="url(#bl2)"/>
<path d="M409.0,68.0 C408.7,71.7 407.5,82.2 407.0,90.0 C406.5,97.8 406.0,107.5 406.0,115.0 C406.0,122.5 406.2,129.2 407.0,135.0 C407.8,140.8 410.3,147.5 411.0,150.0" stroke="#46484c" stroke-width="1.4" fill="none" stroke-linecap="round" opacity="0.9" filter="url(#bl05)"/>
<path d="M339.0,124.0 C340.2,117.3 342.8,114.2 345.0,110.0 C347.2,105.8 349.5,102.5 352.0,99.0 C354.5,95.5 357.0,92.3 360.0,89.0 C363.0,85.7 366.3,82.2 370.0,79.0 C373.7,75.8 377.8,72.3 382.0,70.0 C386.2,67.7 390.7,66.2 395.0,65.0 C399.3,63.8 405.3,60.5 408.0,63.0 C410.7,65.5 411.5,72.5 411.0,80.0 C410.5,87.5 406.2,98.8 405.0,108.0 C403.8,117.2 403.8,127.7 404.0,135.0 C404.2,142.3 405.3,146.5 406.0,152.0 C406.7,157.5 409.0,163.8 408.0,168.0 C407.0,172.2 407.2,175.3 400.0,177.0 C392.8,178.7 374.0,179.2 365.0,178.0 C356.0,176.8 350.5,174.7 346.0,170.0 C341.5,165.3 339.2,157.7 338.0,150.0 C336.8,142.3 337.8,130.7 339.0,124.0Z" fill="#d6d6d6" opacity="1" filter="url(#bl1)"/>
<path d="M334.0,150.0 C334.3,146.7 334.8,135.8 336.0,130.0 C337.2,124.2 339.0,119.3 341.0,115.0 C343.0,110.7 345.5,107.5 348.0,104.0 C350.5,100.5 353.3,97.3 356.0,94.0 C358.7,90.7 361.0,87.2 364.0,84.0 C367.0,80.8 370.3,77.7 374.0,75.0 C377.7,72.3 382.0,69.8 386.0,68.0 C390.0,66.2 394.0,65.0 398.0,64.0 C402.0,63.0 408.0,62.3 410.0,62.0" stroke="#8e8e8e" stroke-width="5" fill="none" stroke-linecap="round" opacity="1" filter="url(#bl1)"/>
<ellipse cx="351" cy="118" rx="5" ry="12" transform="rotate(25 351 118)" fill="#a6a6a6" filter="url(#bl2)"/>
<ellipse cx="367" cy="98" rx="4" ry="10" transform="rotate(40 367 98)" fill="#a8a8a8" filter="url(#bl2)"/>
<ellipse cx="383" cy="82" rx="4" ry="8" transform="rotate(55 383 82)" fill="#aaaaaa" filter="url(#bl2)"/>
<ellipse cx="404" cy="92" rx="4" ry="14" transform="rotate(0 404 92)" fill="#a0a0a0" filter="url(#bl2)"/>
<ellipse cx="399" cy="140" rx="4" ry="14" transform="rotate(0 399 140)" fill="#a4a4a4" filter="url(#bl2)"/>
<ellipse cx="370" cy="140" rx="4" ry="10" transform="rotate(15 370 140)" fill="#b0b0b0" filter="url(#bl2)"/>
<ellipse cx="398" cy="118" rx="3" ry="8" transform="rotate(10 398 118)" fill="#b4b4b4" filter="url(#bl2)"/>
<ellipse cx="376" cy="120" rx="3" ry="7" transform="rotate(40 376 120)" fill="#b4b4b4" filter="url(#bl2)"/>
<ellipse cx="350" cy="152" rx="4" ry="9" transform="rotate(0 350 152)" fill="#a8a8a8" filter="url(#bl2)"/>
<path d="M396,70 C392,90 389,110 386,130 C383,150 380,165 378,178" stroke="#f6f6f6" stroke-width="11" fill="none" stroke-linecap="round" opacity="1" filter="url(#bl1)"/>
<path d="M386,122 C378,112 368,104 358,99" stroke="#f4f4f4" stroke-width="6" fill="none" stroke-linecap="round" opacity="1" filter="url(#bl1)"/>
<path d="M383,140 C372,135 362,130 354,132" stroke="#f2f2f2" stroke-width="5" fill="none" stroke-linecap="round" opacity="1" filter="url(#bl1)"/>
<path d="M364,150 C368,160 372,168 380,176" stroke="#f4f4f4" stroke-width="10" fill="none" stroke-linecap="round" opacity="1" filter="url(#bl1)"/>
<path d="M375.0,150.0 C377.3,145.2 387.2,145.0 392.0,145.0 C396.8,145.0 401.7,146.5 404.0,150.0 C406.3,153.5 407.5,162.0 406.0,166.0 C404.5,170.0 399.7,172.7 395.0,174.0 C390.3,175.3 381.3,178.0 378.0,174.0 C374.7,170.0 372.7,154.8 375.0,150.0Z" fill="#f2f2f2" opacity="1" filter="url(#bl1)"/>
<path d="M392,78 C385,72 376,76 370,84" stroke="#f0f0f0" stroke-width="4" fill="none" stroke-linecap="round" opacity="1" filter="url(#bl1)"/>
<path d="M395,100 C400,96 404,98 408,104" stroke="#f0f0f0" stroke-width="3.5" fill="none" stroke-linecap="round" opacity="1" filter="url(#bl1)"/>
<path d="M360,108 C356,112 352,116 350,122" stroke="#eeeeee" stroke-width="3" fill="none" stroke-linecap="round" opacity="1" filter="url(#bl1)"/>
<path d="M357,94 C362,98 366,104 370,110" stroke="#8e8e8e" stroke-width="4.5" fill="none" stroke-linecap="round" opacity="0.8" filter="url(#bl1)"/>
<path d="M357,94 C362,98 366,104 370,110" stroke="#555" stroke-width="1.4" fill="none" stroke-linecap="round" opacity="0.85" filter="url(#bl05)"/>
<path d="M366,80 C368,88 372,96 377,101 C380,103 383,100 385,92" stroke="#8e8e8e" stroke-width="4.5" fill="none" stroke-linecap="round" opacity="0.8" filter="url(#bl1)"/>
<path d="M366,80 C368,88 372,96 377,101 C380,103 383,100 385,92" stroke="#555" stroke-width="1.4" fill="none" stroke-linecap="round" opacity="0.85" filter="url(#bl05)"/>
<path d="M346,112 C350,118 354,124 357,130" stroke="#8e8e8e" stroke-width="4.5" fill="none" stroke-linecap="round" opacity="0.8" filter="url(#bl1)"/>
<path d="M346,112 C350,118 354,124 357,130" stroke="#555" stroke-width="1.4" fill="none" stroke-linecap="round" opacity="0.85" filter="url(#bl05)"/>
<path d="M402,150 C405,158 407,165 409,170" stroke="#8e8e8e" stroke-width="4.5" fill="none" stroke-linecap="round" opacity="0.8" filter="url(#bl1)"/>
<path d="M402,150 C405,158 407,165 409,170" stroke="#555" stroke-width="1.4" fill="none" stroke-linecap="round" opacity="0.85" filter="url(#bl05)"/>
<path d="M348,100 C352,106 356,112 360,116" stroke="#8e8e8e" stroke-width="4.5" fill="none" stroke-linecap="round" opacity="0.8" filter="url(#bl1)"/>
<path d="M348,100 C352,106 356,112 360,116" stroke="#555" stroke-width="1.4" fill="none" stroke-linecap="round" opacity="0.85" filter="url(#bl05)"/>
<path d="M363,116 C367,119 369,123 371,127" stroke="#8e8e8e" stroke-width="4.5" fill="none" stroke-linecap="round" opacity="0.8" filter="url(#bl1)"/>
<path d="M363,116 C367,119 369,123 371,127" stroke="#555" stroke-width="1.4" fill="none" stroke-linecap="round" opacity="0.85" filter="url(#bl05)"/>
<path d="M381,97 C383,100 384,103 384,106" stroke="#8e8e8e" stroke-width="4.5" fill="none" stroke-linecap="round" opacity="0.8" filter="url(#bl1)"/>
<path d="M381,97 C383,100 384,103 384,106" stroke="#555" stroke-width="1.4" fill="none" stroke-linecap="round" opacity="0.85" filter="url(#bl05)"/>
<path d="M396.0,160.0 C398.3,157.0 404.3,157.0 410.0,157.0 C415.7,157.0 424.2,158.7 430.0,160.0 C435.8,161.3 442.5,162.3 445.0,165.0 C447.5,167.7 453.2,174.3 445.0,176.0 C436.8,177.7 404.2,177.7 396.0,175.0 C387.8,172.3 393.7,163.0 396.0,160.0Z" fill="#8a8a8a" opacity="1" filter="url(#bl2)"/>
<path d="M402.0,163.0 C403.7,162.7 408.7,160.8 412.0,161.0 C415.3,161.2 420.3,163.5 422.0,164.0" stroke="#b4b8bc" stroke-width="3" fill="none" stroke-linecap="round" opacity="0.9" filter="url(#bl1)"/>
<ellipse cx="452" cy="168" rx="10" ry="8" fill="#8a8a8a" filter="url(#bl1)"/>
<path d="M338.0,170.0 C340.7,166.3 349.0,167.5 356.0,167.0 C363.0,166.5 372.7,166.9 380.0,167.0 C387.3,167.1 391.7,166.8 400.0,167.5 C408.3,168.2 422.0,169.8 430.0,171.5 C438.0,173.2 442.8,175.9 448.0,178.0 C453.2,180.1 455.7,182.8 461.0,184.0 C466.3,185.2 473.5,185.0 480.0,185.5 C486.5,186.0 493.3,186.5 500.0,187.0 C506.7,187.5 514.7,187.8 520.0,188.5 C525.3,189.2 529.7,189.8 532.0,191.5 C534.3,193.2 534.3,196.9 534.0,199.0 C533.7,201.1 535.7,202.8 530.0,204.0 C524.3,205.2 510.0,205.9 500.0,206.0 C490.0,206.1 477.5,205.2 470.0,204.5 C462.5,203.8 460.0,203.1 455.0,202.0 C450.0,200.9 445.8,199.0 440.0,198.0 C434.2,197.0 426.7,196.7 420.0,196.0 C413.3,195.3 406.7,194.5 400.0,194.0 C393.3,193.5 386.7,193.5 380.0,193.0 C373.3,192.5 366.7,191.7 360.0,191.0 C353.3,190.3 343.7,192.5 340.0,189.0 C336.3,185.5 335.3,173.7 338.0,170.0Z" fill="#f3f3f3" opacity="1" filter="url(#bl1)"/>
<path d="M360,180 C380,182 400,183 420,184" stroke="#c4c4c4" stroke-width="2" fill="none" stroke-linecap="round" opacity="0.8" filter="url(#bl1)"/>
<path d="M405,184 C420,186 440,188 455,192" stroke="#c4c4c4" stroke-width="2" fill="none" stroke-linecap="round" opacity="0.8" filter="url(#bl1)"/>
<path d="M390,173 C400,174 410,175 425,177" stroke="#c4c4c4" stroke-width="2" fill="none" stroke-linecap="round" opacity="0.8" filter="url(#bl1)"/>
<path d="M470,195 C480,193 490,194 500,196" stroke="#c4c4c4" stroke-width="2" fill="none" stroke-linecap="round" opacity="0.8" filter="url(#bl1)"/>
<path d="M426.0,142.7 C429.2,140.0 436.6,139.4 442.0,139.0 C447.4,138.6 452.8,139.2 458.2,140.3 C463.6,141.5 469.2,143.4 474.2,145.9 C479.2,148.4 483.9,151.8 488.0,155.5 C492.1,159.2 496.0,163.7 499.0,168.4 C502.0,173.2 506.0,181.2 506.0,184.0 C506.0,186.8 501.7,187.1 499.0,185.0 C496.3,182.9 493.3,175.7 490.0,171.6 C486.7,167.5 483.0,163.5 479.0,160.3 C475.0,157.1 471.0,154.2 466.2,152.3 C461.4,150.4 455.2,148.8 450.1,149.1 C445.0,149.4 438.7,152.1 435.7,153.9 C432.7,155.7 433.6,158.3 432.0,160.0 C430.4,161.7 427.5,164.8 426.0,164.0 C424.5,163.2 423.0,158.6 423.0,155.0 C423.0,151.4 422.8,145.4 426.0,142.7Z" fill="#cdd3d8" stroke="#3a3a3a" stroke-width="0.8"/>
<path d="M430,146 C445,142 462,143 476,150 C486,158 494,170 498,180" stroke="#eef1f3" stroke-width="2.2" fill="none" stroke-linecap="round" opacity="1" filter="url(#bl05)"/>
<path d="M442,155 C452,152 462,155 468,165 C471,170 472,176 472,181" stroke="#b9c0c6" stroke-width="3.5" fill="none" stroke-linecap="round" opacity="1"/>
<path d="M412.0,63.0 C414.2,62.2 420.3,59.2 425.0,58.0 C429.7,56.8 435.0,55.8 440.0,56.0 C445.0,56.2 450.0,58.0 455.0,59.0 C460.0,60.0 467.5,61.5 470.0,62.0" stroke="#a8acb0" stroke-width="5" fill="none" stroke-linecap="round" opacity="0.9" filter="url(#bl2)"/>
<path d="M424.5,62.5 C424.1,64.8 421.6,71.8 421.9,76.5 C422.2,81.2 423.8,86.1 426.3,90.5 C428.8,94.9 432.7,99.4 436.8,102.8 C440.9,106.2 448.5,109.4 450.8,110.7" stroke="#44484c" stroke-width="1.4" fill="none" stroke-linecap="round" opacity="0.85" filter="url(#bl05)"/>
<path d="M431.5,67.8 C433.1,67.1 438.8,63.0 441.4,63.4 C444.0,63.8 446.3,67.1 447.0,70.4 C447.7,73.7 445.6,79.0 445.6,83.0 C445.6,87.0 446.8,92.3 447.0,94.2" stroke="#44484c" stroke-width="1.4" fill="none" stroke-linecap="round" opacity="0.85" filter="url(#bl05)"/>
<path d="M451.2,63.4 C451.7,65.0 454.0,69.7 454.0,73.2 C454.0,76.7 451.7,82.5 451.2,84.4" stroke="#44484c" stroke-width="1.4" fill="none" stroke-linecap="round" opacity="0.85" filter="url(#bl05)"/>
<path d="M405.0,113.8 C408.5,113.6 419.0,112.4 426.0,112.4 C433.0,112.4 440.0,112.9 447.0,113.8 C454.0,114.7 460.8,116.3 468.0,118.0 C475.2,119.7 483.8,121.9 490.0,124.0 C496.2,126.1 502.5,129.7 505.0,130.8" stroke="#44484c" stroke-width="1.4" fill="none" stroke-linecap="round" opacity="0.85" filter="url(#bl05)"/>
<path d="M485.8,77.6 C488.4,78.4 496.2,80.1 501.5,82.3 C506.8,84.5 512.6,88.0 517.3,91.0 C522.0,94.0 526.2,97.0 529.9,100.4 C533.6,103.8 536.5,107.8 539.4,111.5 C542.3,115.2 544.9,118.6 547.2,122.5 C549.6,126.4 551.5,130.8 553.5,135.1 C555.5,139.3 557.2,143.5 559.0,148.0 C560.8,152.5 563.2,159.7 564.0,162.0" stroke="#44484c" stroke-width="1.4" fill="none" stroke-linecap="round" opacity="0.85" filter="url(#bl05)"/>
<path d="M479.5,81.5 C481.9,82.8 488.6,86.8 493.6,89.4 C498.6,92.0 504.7,94.2 509.4,97.3 C514.1,100.4 518.1,104.6 522.0,108.3 C525.9,112.0 530.1,115.5 533.0,119.4 C535.9,123.4 537.4,127.6 539.4,132.0 C541.4,136.4 544.1,143.7 545.0,146.0" stroke="#44484c" stroke-width="1.4" fill="none" stroke-linecap="round" opacity="0.85" filter="url(#bl05)"/>
<path d="M509.4,84.7 C509.9,86.5 512.1,93.9 512.6,95.7" stroke="#44484c" stroke-width="1.4" fill="none" stroke-linecap="round" opacity="0.85" filter="url(#bl05)"/>
<path d="M525.2,95.7 C524.7,97.1 522.5,102.6 522.0,104.0" stroke="#44484c" stroke-width="1.4" fill="none" stroke-linecap="round" opacity="0.85" filter="url(#bl05)"/>
<path d="M536.2,109.9 C535.4,111.0 532.3,115.2 531.5,116.2" stroke="#44484c" stroke-width="1.4" fill="none" stroke-linecap="round" opacity="0.85" filter="url(#bl05)"/>
<path d="M490.5,97.3 C492.3,98.1 498.9,99.4 501.5,102.0 C504.1,104.6 505.5,111.2 506.3,113.0" stroke="#44484c" stroke-width="1.4" fill="none" stroke-linecap="round" opacity="0.85" filter="url(#bl05)"/>
<path d="M485.8,113.0 C487.6,113.8 493.6,116.0 496.8,117.8 C500.0,119.6 503.6,123.0 505.0,124.0" stroke="#44484c" stroke-width="1.4" fill="none" stroke-linecap="round" opacity="0.85" filter="url(#bl05)"/>
<path d="M515.0,110.0 C515.8,112.0 517.8,119.0 520.0,122.0 C522.2,125.0 526.7,127.0 528.0,128.0" stroke="#44484c" stroke-width="1.4" fill="none" stroke-linecap="round" opacity="0.85" filter="url(#bl05)"/>
<path d="M418.0,132.0 C421.7,131.7 431.3,130.0 440.0,130.0 C448.7,130.0 460.8,130.3 470.0,132.0 C479.2,133.7 488.0,136.2 495.0,140.0 C502.0,143.8 507.5,149.7 512.0,155.0 C516.5,160.3 519.5,166.2 522.0,172.0 C524.5,177.8 526.2,187.0 527.0,190.0" stroke="#44484c" stroke-width="1.4" fill="none" stroke-linecap="round" opacity="0.85" filter="url(#bl05)"/>
<path d="M543.6,160.5 C545.9,162.0 553.9,166.1 557.6,169.3 C561.3,172.6 564.6,178.2 566.0,180.0" stroke="#44484c" stroke-width="1.4" fill="none" stroke-linecap="round" opacity="0.85" filter="url(#bl05)"/>
<path d="M536.5,172.8 C539.1,172.2 547.9,168.7 552.3,169.3 C556.7,169.9 561.0,175.1 562.8,176.3" stroke="#44484c" stroke-width="1.4" fill="none" stroke-linecap="round" opacity="0.85" filter="url(#bl05)"/>
<path d="M527.8,183.3 C531.0,182.9 543.8,181.1 547.0,180.6" stroke="#44484c" stroke-width="1.4" fill="none" stroke-linecap="round" opacity="0.85" filter="url(#bl05)"/>
<path d="M531.3,192.0 C534.5,192.3 545.0,194.1 550.6,193.8 C556.2,193.5 562.3,190.9 564.6,190.3" stroke="#44484c" stroke-width="1.4" fill="none" stroke-linecap="round" opacity="0.85" filter="url(#bl05)"/>
<path d="M533.0,200.8 C533.6,203.4 535.6,211.2 536.5,216.5 C537.4,221.8 538.2,228.1 538.3,232.3 C538.4,236.6 537.2,240.4 537.0,242.0" stroke="#44484c" stroke-width="1.4" fill="none" stroke-linecap="round" opacity="0.85" filter="url(#bl05)"/>
<path d="M510.3,207.8 C513.2,206.9 524.9,203.4 527.8,202.5" stroke="#44484c" stroke-width="1.4" fill="none" stroke-linecap="round" opacity="0.85" filter="url(#bl05)"/>
<path d="M508.5,220.0 C511.4,220.6 521.9,223.3 526.0,223.5 C530.1,223.7 531.8,221.4 533.0,221.0" stroke="#44484c" stroke-width="1.4" fill="none" stroke-linecap="round" opacity="0.85" filter="url(#bl05)"/>
<path d="M505.0,232.3 C508.8,232.6 524.0,233.7 527.8,234.0" stroke="#44484c" stroke-width="1.4" fill="none" stroke-linecap="round" opacity="0.85" filter="url(#bl05)"/>
<path d="M540.0,202.5 C542.9,203.4 552.6,207.5 557.6,207.8 C562.6,208.1 567.8,204.9 569.8,204.3" stroke="#44484c" stroke-width="1.4" fill="none" stroke-linecap="round" opacity="0.85" filter="url(#bl05)"/>
<path d="M543.6,216.5 C546.5,217.1 556.9,220.1 561.0,220.0 C565.1,219.9 566.8,216.7 568.0,216.0" stroke="#44484c" stroke-width="1.4" fill="none" stroke-linecap="round" opacity="0.85" filter="url(#bl05)"/>
<path d="M547.0,164.0 C548.2,162.8 552.8,158.2 554.0,157.0" stroke="#44484c" stroke-width="1.4" fill="none" stroke-linecap="round" opacity="0.85" filter="url(#bl05)"/>
<path d="M470.0,60.0 C472.5,60.8 482.5,64.2 485.0,65.0" stroke="#44484c" stroke-width="1.4" fill="none" stroke-linecap="round" opacity="0.85" filter="url(#bl05)"/>
<path d="M330.0,150.0 C330.7,146.7 332.3,135.8 334.0,130.0 C335.7,124.2 337.3,120.0 340.0,115.0 C342.7,110.0 348.3,102.5 350.0,100.0" stroke="#44484c" stroke-width="1.4" fill="none" stroke-linecap="round" opacity="0.85" filter="url(#bl05)"/>
<path d="M332.0,180.0 C332.7,177.5 335.0,169.7 336.0,165.0 C337.0,160.3 337.0,156.2 338.0,152.0 C339.0,147.8 341.3,142.0 342.0,140.0" stroke="#44484c" stroke-width="1.4" fill="none" stroke-linecap="round" opacity="0.85" filter="url(#bl05)"/>
<path d="M428.0,70.0 C429.3,70.0 433.8,69.0 436.0,70.0 C438.2,71.0 440.2,72.7 441.0,76.0 C441.8,79.3 441.0,87.7 441.0,90.0" stroke="#a6aaae" stroke-width="3.5" fill="none" stroke-linecap="round" opacity="0.8" filter="url(#bl1)"/>
<path d="M430.0,85.0 C431.3,86.8 435.0,92.8 438.0,96.0 C441.0,99.2 446.3,102.7 448.0,104.0" stroke="#a6aaae" stroke-width="3.5" fill="none" stroke-linecap="round" opacity="0.8" filter="url(#bl1)"/>
<path d="M488.0,72.0 C490.5,72.8 498.0,74.8 503.0,77.0 C508.0,79.2 513.2,82.0 518.0,85.0 C522.8,88.0 527.8,91.3 532.0,95.0 C536.2,98.7 539.8,102.8 543.0,107.0 C546.2,111.2 548.5,115.5 551.0,120.0 C553.5,124.5 555.8,129.0 558.0,134.0 C560.2,139.0 563.0,147.3 564.0,150.0" stroke="#a6aaae" stroke-width="3.5" fill="none" stroke-linecap="round" opacity="0.8" filter="url(#bl1)"/>
<path d="M486.0,92.0 C488.3,92.5 495.7,93.2 500.0,95.0 C504.3,96.8 510.0,101.7 512.0,103.0" stroke="#a6aaae" stroke-width="3.5" fill="none" stroke-linecap="round" opacity="0.8" filter="url(#bl1)"/>
<path d="M500.0,110.0 C501.7,111.3 508.3,116.7 510.0,118.0" stroke="#a6aaae" stroke-width="3.5" fill="none" stroke-linecap="round" opacity="0.8" filter="url(#bl1)"/>
<path d="M525.0,112.0 C526.2,114.0 530.8,122.0 532.0,124.0" stroke="#a6aaae" stroke-width="3.5" fill="none" stroke-linecap="round" opacity="0.8" filter="url(#bl1)"/>
<path d="M540.0,125.0 C540.8,127.2 544.2,135.8 545.0,138.0" stroke="#a6aaae" stroke-width="3.5" fill="none" stroke-linecap="round" opacity="0.8" filter="url(#bl1)"/>
<path d="M545.0,176.0 C547.0,175.7 555.0,174.3 557.0,174.0" stroke="#a6aaae" stroke-width="3.5" fill="none" stroke-linecap="round" opacity="0.8" filter="url(#bl1)"/>
<path d="M538.0,187.0 C540.3,187.0 549.7,187.0 552.0,187.0" stroke="#a6aaae" stroke-width="3.5" fill="none" stroke-linecap="round" opacity="0.8" filter="url(#bl1)"/>
<path d="M545.0,198.0 C547.5,198.2 557.5,198.8 560.0,199.0" stroke="#a6aaae" stroke-width="3.5" fill="none" stroke-linecap="round" opacity="0.8" filter="url(#bl1)"/>
<path d="M546.0,211.0 C548.7,211.3 559.3,212.7 562.0,213.0" stroke="#a6aaae" stroke-width="3.5" fill="none" stroke-linecap="round" opacity="0.8" filter="url(#bl1)"/>
<path d="M512.0,214.0 C514.7,213.7 525.3,212.3 528.0,212.0" stroke="#a6aaae" stroke-width="3.5" fill="none" stroke-linecap="round" opacity="0.8" filter="url(#bl1)"/>
<path d="M510.0,227.0 C513.0,227.2 525.0,227.8 528.0,228.0" stroke="#a6aaae" stroke-width="3.5" fill="none" stroke-linecap="round" opacity="0.8" filter="url(#bl1)"/>
<path d="M500.0,240.0 C503.3,240.0 514.2,240.3 520.0,240.0 C525.8,239.7 532.5,238.3 535.0,238.0" stroke="#a6aaae" stroke-width="3.5" fill="none" stroke-linecap="round" opacity="0.8" filter="url(#bl1)"/>
<path d="M548.0,230.0 C550.0,229.7 558.0,228.3 560.0,228.0" stroke="#a6aaae" stroke-width="3.5" fill="none" stroke-linecap="round" opacity="0.8" filter="url(#bl1)"/>
<path d="M552.0,150.0 C552.7,151.7 555.3,158.3 556.0,160.0" stroke="#a6aaae" stroke-width="3.5" fill="none" stroke-linecap="round" opacity="0.8" filter="url(#bl1)"/>
<path d="M411,262 L429,262 L429,275 Q420,278 411,275 Z" fill="#b8bcc0"/>
<path d="M343.0,128.0 C344.5,124.7 347.5,125.3 350.0,125.0 C352.5,124.7 356.0,124.7 358.0,126.0 C360.0,127.3 361.2,129.8 362.0,133.0 C362.8,136.2 363.0,140.8 363.0,145.0 C363.0,149.2 363.0,154.7 362.0,158.0 C361.0,161.3 359.5,163.7 357.0,165.0 C354.5,166.3 349.5,166.8 347.0,166.0 C344.5,165.2 343.0,163.5 342.0,160.0 C341.0,156.5 340.8,150.3 341.0,145.0 C341.2,139.7 341.5,131.3 343.0,128.0Z" fill="#c98a3a" opacity="0.85" filter="url(#bl05)"/>
<path d="M345.0,133.0 C346.2,129.7 349.8,129.8 352.0,130.0 C354.2,130.2 356.8,131.3 358.0,134.0 C359.2,136.7 359.2,142.3 359.0,146.0 C358.8,149.7 358.7,154.0 357.0,156.0 C355.3,158.0 351.0,159.0 349.0,158.0 C347.0,157.0 345.7,154.2 345.0,150.0 C344.3,145.8 343.8,136.3 345.0,133.0Z" fill="#c8b64a" opacity="0.9" filter="url(#bl1)"/>
<path d="M341.0,155.0 C341.8,154.0 345.2,159.5 348.0,160.0 C350.8,160.5 356.2,157.3 358.0,158.0 C359.8,158.7 360.0,162.5 359.0,164.0 C358.0,165.5 354.7,166.7 352.0,167.0 C349.3,167.3 344.8,168.0 343.0,166.0 C341.2,164.0 340.2,156.0 341.0,155.0Z" fill="#2f9bc8" opacity="0.85" filter="url(#bl05)"/>
<path d="M341.0,131.0 C341.4,129.2 343.4,128.5 344.0,130.0 C344.6,131.5 344.9,138.2 344.5,140.0 C344.1,141.8 342.1,142.5 341.5,141.0 C340.9,139.5 340.6,132.8 341.0,131.0Z" fill="#2f9bc8" opacity="0.85" filter="url(#bl05)"/>
<path d="M453.5,89.0 C455.1,87.6 459.4,86.6 462.0,87.8 C464.6,89.0 466.9,93.3 469.4,96.4 C471.9,99.5 474.1,102.5 476.8,106.2 C479.5,109.9 483.7,114.7 485.3,118.4 C486.9,122.1 487.6,126.1 486.6,128.2 C485.6,130.2 481.6,131.9 479.2,130.7 C476.8,129.5 474.3,123.8 471.9,120.9 C469.4,118.0 467.4,116.4 464.5,113.5 C461.6,110.6 456.7,106.5 454.7,103.7 C452.7,100.9 452.5,98.9 452.3,96.4 C452.1,94.0 451.9,90.4 453.5,89.0Z" fill="#c98a3a" opacity="0.85" filter="url(#bl05)"/>
<path d="M457.0,93.0 C457.7,91.2 460.8,91.3 463.0,93.0 C465.2,94.7 467.3,99.3 470.0,103.0 C472.7,106.7 477.0,111.5 479.0,115.0 C481.0,118.5 482.5,122.5 482.0,124.0 C481.5,125.5 478.3,125.7 476.0,124.0 C473.7,122.3 470.8,117.3 468.0,114.0 C465.2,110.7 460.8,107.5 459.0,104.0 C457.2,100.5 456.3,94.8 457.0,93.0Z" fill="#c8b64a" opacity="0.9" filter="url(#bl1)"/>
<path d="M464.0,64.0 C465.7,64.4 470.5,65.5 474.0,66.5 C477.5,67.5 481.5,68.8 485.0,70.0 C488.5,71.2 491.8,72.5 495.0,74.0 C498.2,75.5 502.5,78.2 504.0,79.0" stroke="#c98a3a" stroke-width="3.2" fill="none" stroke-linecap="round" opacity="0.9" filter="url(#bl05)"/>
<path d="M466.0,68.5 C466.8,68.7 470.2,69.3 471.0,69.5" stroke="#2f9bc8" stroke-width="2.2" fill="none" stroke-linecap="round" opacity="0.9" filter="url(#bl05)"/>
<path d="M499.0,77.0 C499.8,77.4 502.8,79.1 503.5,79.5" stroke="#2f9bc8" stroke-width="2" fill="none" stroke-linecap="round" opacity="0.9" filter="url(#bl05)"/>
<path d="M453.6,61.0 C454.3,60.4 456.6,60.1 458.0,60.4 C459.4,60.7 461.4,61.8 462.0,63.0 C462.6,64.2 462.5,67.2 461.5,67.9 C460.5,68.6 457.2,67.7 456.0,67.0 C454.8,66.3 454.4,65.0 454.0,64.0 C453.6,63.0 452.9,61.6 453.6,61.0Z" fill="#c98a3a" opacity="0.85" filter="url(#bl05)"/>
<path d="M463.0,71.0 C464.2,70.1 467.4,69.8 470.0,69.8 C472.6,69.8 477.6,69.6 478.8,71.0 C480.0,72.4 478.1,76.3 477.0,78.0 C475.9,79.7 473.8,80.8 472.0,81.0 C470.2,81.2 467.5,80.0 466.0,79.0 C464.5,78.0 463.5,76.3 463.0,75.0 C462.5,73.7 461.8,71.9 463.0,71.0Z" fill="#c98a3a" opacity="0.85" filter="url(#bl05)"/>
<path d="M479.0,71.5 C480.0,70.6 483.2,70.3 485.0,70.7 C486.8,71.1 489.3,72.6 490.0,74.0 C490.7,75.4 490.2,78.4 489.0,79.1 C487.8,79.8 484.7,78.5 483.0,78.0 C481.3,77.5 479.7,77.1 479.0,76.0 C478.3,74.9 478.0,72.4 479.0,71.5Z" fill="#c98a3a" opacity="0.85" filter="url(#bl05)"/>
<circle cx="413.6" cy="94.6" r="2" fill="#c98a3a" opacity="0.85" filter="url(#bl05)"/>
<circle cx="352.1" cy="112.8" r="1.6" fill="#c98a3a" opacity="0.85" filter="url(#bl05)"/>
<circle cx="426" cy="158.4" r="2" fill="#c98a3a" opacity="0.85" filter="url(#bl05)"/>
<circle cx="412.4" cy="166.3" r="2" fill="#c98a3a" opacity="0.85" filter="url(#bl05)"/>
<circle cx="484.1" cy="90.2" r="2.3" fill="#c98a3a" opacity="0.85" filter="url(#bl05)"/>
<circle cx="506.2" cy="109.8" r="3.5" fill="#c98a3a" opacity="0.85" filter="url(#bl05)"/>
<circle cx="513.5" cy="146" r="2.5" fill="#c98a3a" opacity="0.85" filter="url(#bl05)"/>
<circle cx="500" cy="115" r="1.5" fill="#c98a3a" opacity="0.85" filter="url(#bl05)"/>
<path d="M511.0,133.0 C512.3,130.2 516.8,131.5 520.0,131.0 C523.2,130.5 527.3,129.2 530.0,130.0 C532.7,130.8 535.0,132.7 536.0,136.0 C537.0,139.3 535.8,145.2 536.0,150.0 C536.2,154.8 537.3,161.0 537.0,165.0 C536.7,169.0 535.7,172.8 534.0,174.0 C532.3,175.2 528.7,174.3 527.0,172.0 C525.3,169.7 525.5,163.7 524.0,160.0 C522.5,156.3 520.0,152.0 518.0,150.0 C516.0,148.0 513.2,150.8 512.0,148.0 C510.8,145.2 509.7,135.8 511.0,133.0Z" fill="#c98a3a" opacity="0.85" filter="url(#bl05)"/>
<path d="M511.0,134.0 C512.0,131.8 517.0,132.0 519.0,133.0 C521.0,134.0 520.8,138.5 523.0,140.0 C525.2,141.5 530.0,140.0 532.0,142.0 C534.0,144.0 534.8,148.7 535.0,152.0 C535.2,155.3 534.5,160.7 533.0,162.0 C531.5,163.3 528.0,162.0 526.0,160.0 C524.0,158.0 523.2,152.3 521.0,150.0 C518.8,147.7 514.7,148.7 513.0,146.0 C511.3,143.3 510.0,136.2 511.0,134.0Z" fill="#2f9bc8" opacity="0.85" filter="url(#bl05)"/>
<path d="M569.0,186.0 C570.0,184.7 573.0,185.7 574.0,188.0 C575.0,190.3 575.5,197.3 575.0,200.0 C574.5,202.7 572.2,204.7 571.0,204.0 C569.8,203.3 568.3,199.0 568.0,196.0 C567.7,193.0 568.0,187.3 569.0,186.0Z" fill="#c98a3a" opacity="0.85" filter="url(#bl05)"/>
<path d="M391.0,196.0 C392.3,194.0 396.5,192.5 400.0,192.0 C403.5,191.5 408.7,192.2 412.0,193.0 C415.3,193.8 418.8,194.8 420.0,197.0 C421.2,199.2 420.7,203.7 419.0,206.0 C417.3,208.3 413.5,210.3 410.0,211.0 C406.5,211.7 401.0,211.2 398.0,210.0 C395.0,208.8 393.2,206.3 392.0,204.0 C390.8,201.7 389.7,198.0 391.0,196.0Z" fill="#c98a3a" opacity="0.85" filter="url(#bl05)"/>
<path d="M398.0,197.0 C399.3,195.5 405.3,195.5 408.0,196.0 C410.7,196.5 413.7,198.3 414.0,200.0 C414.3,201.7 412.3,205.2 410.0,206.0 C407.7,206.8 402.0,206.5 400.0,205.0 C398.0,203.5 396.7,198.5 398.0,197.0Z" fill="#c8b64a" opacity="0.9" filter="url(#bl1)"/>
<path d="M428.0,199.0 C429.7,197.3 436.2,197.0 440.0,197.0 C443.8,197.0 449.0,197.5 451.0,199.0 C453.0,200.5 453.5,204.3 452.0,206.0 C450.5,207.7 445.7,208.8 442.0,209.0 C438.3,209.2 432.3,208.7 430.0,207.0 C427.7,205.3 426.3,200.7 428.0,199.0Z" fill="#c8b64a" opacity="0.85" filter="url(#bl05)"/>
<path d="M433.0,212.0 C435.7,209.7 443.8,209.0 450.0,208.0 C456.2,207.0 463.3,206.5 470.0,206.0 C476.7,205.5 484.2,204.8 490.0,205.0 C495.8,205.2 502.3,204.8 505.0,207.0 C507.7,209.2 506.8,214.5 506.0,218.0 C505.2,221.5 503.5,225.8 500.0,228.0 C496.5,230.2 490.0,230.7 485.0,231.0 C480.0,231.3 475.0,229.8 470.0,230.0 C465.0,230.2 460.0,232.0 455.0,232.0 C450.0,232.0 443.5,231.7 440.0,230.0 C436.5,228.3 435.2,225.0 434.0,222.0 C432.8,219.0 430.3,214.3 433.0,212.0Z" fill="#c98a3a" opacity="0.85" filter="url(#bl05)"/>
<path d="M472.0,208.0 C474.0,205.5 485.0,206.7 490.0,207.0 C495.0,207.3 500.0,207.5 502.0,210.0 C504.0,212.5 503.7,219.3 502.0,222.0 C500.3,224.7 496.0,226.0 492.0,226.0 C488.0,226.0 481.3,225.0 478.0,222.0 C474.7,219.0 470.0,210.5 472.0,208.0Z" fill="#c8b64a" opacity="0.9" filter="url(#bl1)"/>
<path d="M474.0,214.0 C474.8,211.8 479.8,212.0 482.0,213.0 C484.2,214.0 486.5,217.5 487.0,220.0 C487.5,222.5 486.7,227.0 485.0,228.0 C483.3,229.0 478.8,228.3 477.0,226.0 C475.2,223.7 473.2,216.2 474.0,214.0Z" fill="#2f9bc8" opacity="0.85" filter="url(#bl05)"/>
<path d="M456.0,215.0 C456.7,213.7 459.8,213.0 461.0,214.0 C462.2,215.0 463.7,219.7 463.0,221.0 C462.3,222.3 458.2,223.0 457.0,222.0 C455.8,221.0 455.3,216.3 456.0,215.0Z" fill="#2f9bc8" opacity="0.85" filter="url(#bl05)"/>
<path d="M507.0,203.0 C509.0,201.7 515.7,202.0 520.0,202.0 C524.3,202.0 530.8,201.8 533.0,203.0 C535.2,204.2 535.2,207.7 533.0,209.0 C530.8,210.3 524.2,210.8 520.0,211.0 C515.8,211.2 510.2,211.3 508.0,210.0 C505.8,208.7 505.0,204.3 507.0,203.0Z" fill="#c98a3a" opacity="0.85" filter="url(#bl05)"/>
<path d="M367.0,202.0 C368.0,200.3 372.3,200.0 374.0,201.0 C375.7,202.0 377.0,205.8 377.0,208.0 C377.0,210.2 375.5,213.5 374.0,214.0 C372.5,214.5 369.2,213.0 368.0,211.0 C366.8,209.0 366.0,203.7 367.0,202.0Z" fill="#c98a3a" opacity="0.85" filter="url(#bl05)"/>
<path d="M358.0,181.0 C359.2,180.3 364.5,180.5 366.0,181.0 C367.5,181.5 368.2,183.3 367.0,184.0 C365.8,184.7 360.5,185.5 359.0,185.0 C357.5,184.5 356.8,181.7 358.0,181.0Z" fill="#c98a3a" opacity="0.85" filter="url(#bl05)"/>
<path d="M380.0,190.0 C381.0,189.0 386.3,187.7 388.0,188.0 C389.7,188.3 391.0,191.0 390.0,192.0 C389.0,193.0 383.7,194.3 382.0,194.0 C380.3,193.7 379.0,191.0 380.0,190.0Z" fill="#c98a3a" opacity="0.85" filter="url(#bl05)"/>
</g>
<path d="M326.5,160.0 C327.1,155.0 328.5,149.2 329.5,145.0 C330.5,140.8 331.4,138.8 332.6,135.0 C333.8,131.2 335.2,126.5 336.8,122.3 C338.4,118.1 340.3,113.3 342.4,109.6 C344.5,105.8 347.1,102.6 349.4,99.8 C351.7,97.0 354.3,95.4 356.4,92.8 C358.5,90.2 359.9,86.7 362.0,84.4 C364.1,82.1 366.4,80.9 369.0,78.8 C371.6,76.7 374.6,73.9 377.4,71.8 C380.2,69.7 383.0,67.6 385.8,66.2 C388.6,64.8 391.9,63.9 394.3,63.4 C396.7,62.9 398.2,62.8 400.0,63.0 C401.8,63.2 402.7,65.1 405.0,64.5 C407.3,63.9 410.9,61.1 414.0,59.5 C417.1,57.9 420.3,55.9 423.4,54.8 C426.5,53.7 429.9,53.1 432.7,52.7 C435.5,52.3 437.7,52.0 440.0,52.3 C442.3,52.6 444.6,53.7 446.7,54.3 C448.8,54.9 450.3,55.5 452.6,56.0 C454.9,56.5 457.8,56.6 460.7,57.2 C463.6,57.8 466.8,58.6 470.0,59.5 C473.2,60.4 476.8,61.1 480.0,62.4 C483.2,63.7 484.6,64.8 489.0,67.5 C493.4,70.2 500.9,74.6 506.2,78.5 C511.5,82.4 516.0,86.4 520.9,91.0 C525.8,95.6 531.1,101.0 535.6,106.0 C540.1,111.0 543.7,115.2 547.8,120.9 C551.9,126.7 556.8,134.4 560.1,140.5 C563.4,146.6 565.2,151.0 567.4,157.6 C569.6,164.2 572.1,173.4 573.5,180.0 C574.9,186.6 576.0,191.9 575.9,197.0 C575.8,202.1 574.6,206.0 572.6,210.4 C570.6,214.8 567.5,219.5 563.9,223.5 C560.2,227.5 555.1,231.5 550.7,234.4 C546.3,237.3 542.3,239.2 537.6,241.0 C532.9,242.8 527.0,244.1 522.3,245.4 C517.5,246.7 513.9,248.3 509.1,248.7 C504.4,249.1 498.9,248.3 493.8,247.6 C488.7,246.9 483.6,245.0 478.5,244.3 C473.4,243.6 466.0,242.9 463.1,243.2 C460.2,243.5 461.1,244.4 460.9,246.0 C460.7,247.6 462.7,250.4 462.1,252.7 C461.5,255.0 459.6,257.9 457.2,260.0 C454.8,262.1 451.9,263.8 447.4,265.0 C442.9,266.2 433.4,266.4 430.3,267.4 C427.2,268.4 429.3,269.6 429.0,271.0 C428.7,272.4 431.4,275.2 428.5,276.0 C425.6,276.8 414.4,276.8 411.5,276.0 C408.6,275.2 412.9,272.2 411.0,271.0 C409.1,269.8 404.6,269.2 400.0,269.0 C395.4,268.8 389.7,270.2 383.2,269.6 C376.7,269.1 367.4,268.1 360.8,265.7 C354.2,263.3 347.9,259.5 343.8,255.2 C339.8,250.9 338.1,245.2 336.5,240.0 C334.9,234.8 334.8,229.0 334.3,224.0 C333.8,219.0 334.4,215.8 333.5,210.0 C332.6,204.2 329.9,194.8 328.6,189.0 C327.4,183.2 326.4,179.8 326.0,175.0 C325.6,170.2 325.9,165.0 326.5,160.0Z" fill="none" stroke="#3a3a3a" stroke-width="0.9"/>
<line x1="302.5" y1="121.6" x2="339.5" y2="142" stroke="#111" stroke-width="0.9"/>
<line x1="540.5" y1="138" x2="594.4" y2="109.8" stroke="#111" stroke-width="0.9"/>
<line x1="445" y1="212" x2="484" y2="275.5" stroke="#111" stroke-width="0.9"/>
<rect x="250.9" y="72.9" width="52" height="70" fill="#000"/>
<g filter="url(#bl03)">
<rect x="261.30" y="76.00" width="8.85" height="8.70" fill="#ffc400"/>
<rect x="269.55" y="76.00" width="8.85" height="8.70" fill="#ffc800"/>
<rect x="277.80" y="76.00" width="8.25" height="8.70" fill="#ff9a00"/>
<rect x="261.30" y="84.10" width="8.85" height="8.70" fill="#ffe000"/>
<rect x="269.55" y="84.10" width="8.85" height="8.70" fill="#fff000"/>
<rect x="277.80" y="84.10" width="8.85" height="8.70" fill="#ffe800"/>
<rect x="286.05" y="84.10" width="8.25" height="8.70" fill="#ffb400"/>
<rect x="261.30" y="92.20" width="8.85" height="8.70" fill="#ffcc00"/>
<rect x="269.55" y="92.20" width="8.85" height="8.70" fill="#fff200"/>
<rect x="277.80" y="92.20" width="8.85" height="8.70" fill="#fff000"/>
<rect x="286.05" y="92.20" width="8.25" height="8.70" fill="#ffd000"/>
<rect x="261.30" y="100.30" width="8.85" height="8.70" fill="#ffae00"/>
<rect x="269.55" y="100.30" width="8.85" height="8.70" fill="#ffee00"/>
<rect x="277.80" y="100.30" width="8.85" height="8.70" fill="#ffee00"/>
<rect x="286.05" y="100.30" width="8.25" height="8.70" fill="#ffd000"/>
<rect x="253.05" y="108.40" width="8.85" height="8.70" fill="#ff7800"/>
<rect x="261.30" y="108.40" width="8.85" height="8.70" fill="#ffec00"/>
<rect x="269.55" y="108.40" width="8.85" height="8.70" fill="#fff640"/>
<rect x="277.80" y="108.40" width="8.85" height="8.70" fill="#ffef20"/>
<rect x="286.05" y="108.40" width="8.25" height="8.70" fill="#ffd000"/>
<rect x="253.05" y="116.50" width="8.85" height="8.70" fill="#ffa400"/>
<rect x="261.30" y="116.50" width="8.85" height="8.70" fill="#ffec00"/>
<rect x="269.55" y="116.50" width="8.85" height="8.70" fill="#ffe800"/>
<rect x="277.80" y="116.50" width="8.85" height="8.70" fill="#ffe000"/>
<rect x="286.05" y="116.50" width="8.85" height="8.70" fill="#ffd400"/>
<rect x="294.30" y="116.50" width="8.25" height="8.10" fill="#5a9af8"/>
<rect x="253.05" y="124.60" width="8.85" height="8.10" fill="#5a9af8"/>
<rect x="261.30" y="124.60" width="8.85" height="8.70" fill="#4aa8f8"/>
<rect x="269.55" y="124.60" width="8.85" height="8.10" fill="#5a98f8"/>
<rect x="277.80" y="124.60" width="8.85" height="8.10" fill="#5a8cf8"/>
<rect x="286.05" y="124.60" width="8.25" height="8.10" fill="#5a94f8"/>
<rect x="261.30" y="132.70" width="8.25" height="8.10" fill="#6a88f8"/>
</g>
<text x="277.1" y="67.9" font-size="10.8" text-anchor="middle" fill="#262626" >rTPJ</text>
<rect x="594.1" y="61.5" width="57.1" height="59.1" fill="#000"/>
<g filter="url(#bl03)">
<rect x="609.36" y="61.80" width="6.43" height="7.00" fill="#ffa000"/>
<rect x="596.50" y="68.20" width="7.03" height="7.00" fill="#ffa000"/>
<rect x="602.93" y="68.20" width="7.03" height="7.00" fill="#ffc000"/>
<rect x="609.36" y="68.20" width="7.03" height="7.00" fill="#ffc400"/>
<rect x="615.79" y="68.20" width="6.43" height="7.00" fill="#ffc000"/>
<rect x="596.50" y="74.60" width="7.03" height="7.00" fill="#ff9a00"/>
<rect x="602.93" y="74.60" width="7.03" height="7.00" fill="#ffd000"/>
<rect x="609.36" y="74.60" width="7.03" height="7.00" fill="#ffb000"/>
<rect x="615.79" y="74.60" width="7.03" height="7.00" fill="#5a9af8"/>
<rect x="622.22" y="74.60" width="6.43" height="7.00" fill="#ff8c00"/>
<rect x="596.50" y="81.00" width="7.03" height="6.40" fill="#5a9af8"/>
<rect x="602.93" y="81.00" width="7.03" height="7.00" fill="#ffb000"/>
<rect x="609.36" y="81.00" width="7.03" height="7.00" fill="#ff8c00"/>
<rect x="615.79" y="81.00" width="7.03" height="7.00" fill="#5a9af8"/>
<rect x="622.22" y="81.00" width="6.43" height="7.00" fill="#5a9af8"/>
<rect x="602.93" y="87.40" width="7.03" height="6.40" fill="#ff8c00"/>
<rect x="609.36" y="87.40" width="7.03" height="6.40" fill="#ff8000"/>
<rect x="615.79" y="87.40" width="7.03" height="7.00" fill="#ffa400"/>
<rect x="622.22" y="87.40" width="6.43" height="7.00" fill="#ffa000"/>
<rect x="615.79" y="93.80" width="7.03" height="6.40" fill="#5a9af8"/>
<rect x="622.22" y="93.80" width="7.03" height="6.40" fill="#5a9af8"/>
<rect x="628.65" y="93.80" width="7.03" height="7.00" fill="#ff9a00"/>
<rect x="635.08" y="93.80" width="6.43" height="7.00" fill="#ffa000"/>
<rect x="628.65" y="100.20" width="7.03" height="7.00" fill="#5a9af8"/>
<rect x="635.08" y="100.20" width="7.03" height="7.00" fill="#fff000"/>
<rect x="641.51" y="100.20" width="6.43" height="7.00" fill="#ffe800"/>
<rect x="628.65" y="106.60" width="7.03" height="7.00" fill="#5a9af8"/>
<rect x="635.08" y="106.60" width="7.03" height="7.00" fill="#ffe000"/>
<rect x="641.51" y="106.60" width="6.43" height="6.40" fill="#ffd800"/>
<rect x="628.65" y="113.00" width="7.03" height="6.40" fill="#6a88f8"/>
<rect x="635.08" y="113.00" width="6.43" height="6.40" fill="#ff8000"/>
</g>
<text x="623.1" y="55.1" font-size="10.8" text-anchor="middle" fill="#262626" textLength="35.7" lengthAdjust="spacingAndGlyphs" >dmPFC</text>
<rect x="474.9" y="275.3" width="46.2" height="53.4" fill="#000"/>
<g filter="url(#bl03)">
<rect x="485.30" y="278.00" width="8.80" height="8.80" fill="#ff8000"/>
<rect x="493.50" y="278.00" width="8.20" height="8.80" fill="#ffa000"/>
<rect x="485.30" y="286.20" width="8.80" height="8.80" fill="#ffb000"/>
<rect x="493.50" y="286.20" width="8.20" height="8.80" fill="#ffb400"/>
<rect x="477.10" y="294.40" width="8.80" height="8.80" fill="#ff9000"/>
<rect x="485.30" y="294.40" width="8.80" height="8.80" fill="#ffd000"/>
<rect x="493.50" y="294.40" width="8.80" height="8.80" fill="#ffb000"/>
<rect x="501.70" y="294.40" width="8.20" height="8.80" fill="#ff8400"/>
<rect x="477.10" y="302.60" width="8.80" height="8.80" fill="#ffd000"/>
<rect x="485.30" y="302.60" width="8.80" height="8.80" fill="#ffee00"/>
<rect x="493.50" y="302.60" width="8.80" height="8.80" fill="#ffd800"/>
<rect x="501.70" y="302.60" width="8.80" height="8.80" fill="#ffc000"/>
<rect x="509.90" y="302.60" width="8.20" height="8.80" fill="#ff9c00"/>
<rect x="477.10" y="310.80" width="8.80" height="8.80" fill="#ffd000"/>
<rect x="485.30" y="310.80" width="8.80" height="8.80" fill="#fff000"/>
<rect x="493.50" y="310.80" width="8.80" height="8.80" fill="#ffe800"/>
<rect x="501.70" y="310.80" width="8.80" height="8.20" fill="#ffb000"/>
<rect x="509.90" y="310.80" width="8.20" height="8.20" fill="#ffa800"/>
<rect x="477.10" y="319.00" width="8.80" height="8.20" fill="#ff8c00"/>
<rect x="485.30" y="319.00" width="8.80" height="8.20" fill="#ffd800"/>
<rect x="493.50" y="319.00" width="8.20" height="8.20" fill="#ffc000"/>
</g>
<text x="495.6" y="269.3" font-size="10.8" text-anchor="middle" fill="#262626" >rAI</text>
<linearGradient id="cbt" x1="0" y1="0" x2="0" y2="1"><stop offset="0" stop-color="#ffffc8"/><stop offset="0.15" stop-color="#ffff00"/><stop offset="0.45" stop-color="#ff9000"/><stop offset="0.63" stop-color="#f00000"/><stop offset="0.83" stop-color="#700000"/><stop offset="1" stop-color="#000"/></linearGradient>
<linearGradient id="cbb" x1="0" y1="0" x2="0" y2="1"><stop offset="0" stop-color="#f010ff"/><stop offset="0.35" stop-color="#a048ff"/><stop offset="0.7" stop-color="#4c90ff"/><stop offset="1" stop-color="#18e8f8"/></linearGradient>
<rect x="621" y="258.1" width="31.5" height="35.4" fill="url(#cbt)"/>
<rect x="621" y="293.5" width="31.5" height="36.1" fill="url(#cbb)"/>
<rect x="621" y="258.1" width="31.5" height="71.5" fill="none" stroke="#555" stroke-width="0.6"/>
<text x="657.2" y="261.40000000000003" font-size="10.8" fill="#262626" textLength="22.2" lengthAdjust="spacingAndGlyphs"><tspan font-style="italic">z</tspan> = 6</text>
<text x="657.2" y="296.1" font-size="10.8" fill="#262626" textLength="22.2" lengthAdjust="spacingAndGlyphs"><tspan font-style="italic">z</tspan> = 0</text>
<text x="657.2" y="331.8" font-size="10.8" fill="#262626" textLength="27.3" lengthAdjust="spacingAndGlyphs"><tspan font-style="italic">z</tspan> = −6</text>
</g>
<g id="pe">
<text x="366.2" y="391.8" font-size="15.5" font-weight="bold" fill="#000" stroke="#000" stroke-width="0.5">e</text>
<text x="513" y="396.2" font-size="10.8" text-anchor="middle" fill="#262626" textLength="157.6" lengthAdjust="spacingAndGlyphs" >Overlap with univariate analysis</text>
<clipPath id="cs1"><path d="M419.6,409.5 C421.7,409.5 423.7,407.4 426.0,407.0 C428.3,406.6 431.1,406.6 433.6,406.8 C436.1,407.0 438.5,407.2 441.0,408.0 C443.5,408.8 446.6,410.1 448.8,411.4 C451.0,412.7 452.5,414.1 454.0,416.0 C455.5,417.9 457.0,420.5 457.7,422.8 C458.4,425.1 458.2,427.5 458.3,430.0 C458.4,432.5 458.4,435.9 458.5,438.0 C458.6,440.1 459.5,441.4 459.0,442.5 C458.5,443.6 456.5,443.8 455.5,444.5 C454.5,445.2 452.5,446.5 453.0,447.0 C453.5,447.5 456.9,447.2 458.5,447.5 C460.1,447.8 461.3,448.2 462.5,449.0 C463.7,449.8 464.6,450.9 465.5,452.5 C466.4,454.1 467.0,456.1 467.8,458.3 C468.6,460.6 469.7,463.0 470.3,466.0 C470.9,469.0 471.5,472.8 471.6,476.1 C471.7,479.4 471.4,482.6 471.0,486.0 C470.6,489.4 469.9,493.4 469.1,496.4 C468.3,499.4 467.3,501.5 466.0,504.0 C464.7,506.5 463.2,509.3 461.5,511.6 C459.8,513.9 457.6,516.1 455.5,518.0 C453.4,519.9 451.2,521.6 448.8,523.0 C446.4,524.4 443.5,525.6 441.0,526.5 C438.5,527.4 436.1,527.9 433.6,528.1 C431.1,528.4 428.0,528.4 426.0,528.0 C424.0,527.6 422.6,527.0 421.5,526.0 C420.4,525.0 420.2,522.0 419.6,522.0 C419.0,522.0 418.8,525.0 417.7,526.0 C416.6,527.0 415.2,527.6 413.2,528.0 C411.2,528.4 408.2,528.4 405.7,528.1 C403.2,527.9 400.8,527.4 398.2,526.5 C395.6,525.6 392.8,524.4 390.4,523.0 C388.0,521.6 385.8,519.9 383.7,518.0 C381.6,516.1 379.4,513.9 377.7,511.6 C375.9,509.3 374.5,506.5 373.2,504.0 C371.9,501.5 370.9,499.4 370.1,496.4 C369.3,493.4 368.6,489.4 368.2,486.0 C367.8,482.6 367.5,479.4 367.6,476.1 C367.7,472.8 368.3,469.0 368.9,466.0 C369.5,463.0 370.6,460.6 371.4,458.3 C372.2,456.1 372.8,454.1 373.7,452.5 C374.6,450.9 375.5,449.8 376.7,449.0 C377.9,448.2 379.1,447.8 380.7,447.5 C382.3,447.2 385.7,447.5 386.2,447.0 C386.7,446.5 384.7,445.2 383.7,444.5 C382.7,443.8 380.7,443.6 380.2,442.5 C379.7,441.4 380.6,440.1 380.7,438.0 C380.8,435.9 380.8,432.5 380.9,430.0 C381.0,427.5 380.8,425.1 381.5,422.8 C382.2,420.5 383.7,417.9 385.2,416.0 C386.7,414.1 388.2,412.7 390.4,411.4 C392.6,410.1 395.7,408.8 398.2,408.0 C400.7,407.2 403.1,407.0 405.6,406.8 C408.1,406.6 410.9,406.6 413.2,407.0 C415.5,407.4 417.5,409.5 419.6,409.5Z"/></clipPath>
<path d="M419.6,409.5 C421.7,409.5 423.7,407.4 426.0,407.0 C428.3,406.6 431.1,406.6 433.6,406.8 C436.1,407.0 438.5,407.2 441.0,408.0 C443.5,408.8 446.6,410.1 448.8,411.4 C451.0,412.7 452.5,414.1 454.0,416.0 C455.5,417.9 457.0,420.5 457.7,422.8 C458.4,425.1 458.2,427.5 458.3,430.0 C458.4,432.5 458.4,435.9 458.5,438.0 C458.6,440.1 459.5,441.4 459.0,442.5 C458.5,443.6 456.5,443.8 455.5,444.5 C454.5,445.2 452.5,446.5 453.0,447.0 C453.5,447.5 456.9,447.2 458.5,447.5 C460.1,447.8 461.3,448.2 462.5,449.0 C463.7,449.8 464.6,450.9 465.5,452.5 C466.4,454.1 467.0,456.1 467.8,458.3 C468.6,460.6 469.7,463.0 470.3,466.0 C470.9,469.0 471.5,472.8 471.6,476.1 C471.7,479.4 471.4,482.6 471.0,486.0 C470.6,489.4 469.9,493.4 469.1,496.4 C468.3,499.4 467.3,501.5 466.0,504.0 C464.7,506.5 463.2,509.3 461.5,511.6 C459.8,513.9 457.6,516.1 455.5,518.0 C453.4,519.9 451.2,521.6 448.8,523.0 C446.4,524.4 443.5,525.6 441.0,526.5 C438.5,527.4 436.1,527.9 433.6,528.1 C431.1,528.4 428.0,528.4 426.0,528.0 C424.0,527.6 422.6,527.0 421.5,526.0 C420.4,525.0 420.2,522.0 419.6,522.0 C419.0,522.0 418.8,525.0 417.7,526.0 C416.6,527.0 415.2,527.6 413.2,528.0 C411.2,528.4 408.2,528.4 405.7,528.1 C403.2,527.9 400.8,527.4 398.2,526.5 C395.6,525.6 392.8,524.4 390.4,523.0 C388.0,521.6 385.8,519.9 383.7,518.0 C381.6,516.1 379.4,513.9 377.7,511.6 C375.9,509.3 374.5,506.5 373.2,504.0 C371.9,501.5 370.9,499.4 370.1,496.4 C369.3,493.4 368.6,489.4 368.2,486.0 C367.8,482.6 367.5,479.4 367.6,476.1 C367.7,472.8 368.3,469.0 368.9,466.0 C369.5,463.0 370.6,460.6 371.4,458.3 C372.2,456.1 372.8,454.1 373.7,452.5 C374.6,450.9 375.5,449.8 376.7,449.0 C377.9,448.2 379.1,447.8 380.7,447.5 C382.3,447.2 385.7,447.5 386.2,447.0 C386.7,446.5 384.7,445.2 383.7,444.5 C382.7,443.8 380.7,443.6 380.2,442.5 C379.7,441.4 380.6,440.1 380.7,438.0 C380.8,435.9 380.8,432.5 380.9,430.0 C381.0,427.5 380.8,425.1 381.5,422.8 C382.2,420.5 383.7,417.9 385.2,416.0 C386.7,414.1 388.2,412.7 390.4,411.4 C392.6,410.1 395.7,408.8 398.2,408.0 C400.7,407.2 403.1,407.0 405.6,406.8 C408.1,406.6 410.9,406.6 413.2,407.0 C415.5,407.4 417.5,409.5 419.6,409.5Z" fill="#eaeaea"/>
<g clip-path="url(#cs1)">
<path d="M419.6,409.5 C421.7,409.5 423.7,407.4 426.0,407.0 C428.3,406.6 431.1,406.6 433.6,406.8 C436.1,407.0 438.5,407.2 441.0,408.0 C443.5,408.8 446.6,410.1 448.8,411.4 C451.0,412.7 452.5,414.1 454.0,416.0 C455.5,417.9 457.0,420.5 457.7,422.8 C458.4,425.1 458.2,427.5 458.3,430.0 C458.4,432.5 458.4,435.9 458.5,438.0 C458.6,440.1 459.5,441.4 459.0,442.5 C458.5,443.6 456.5,443.8 455.5,444.5 C454.5,445.2 452.5,446.5 453.0,447.0 C453.5,447.5 456.9,447.2 458.5,447.5 C460.1,447.8 461.3,448.2 462.5,449.0 C463.7,449.8 464.6,450.9 465.5,452.5 C466.4,454.1 467.0,456.1 467.8,458.3 C468.6,460.6 469.7,463.0 470.3,466.0 C470.9,469.0 471.5,472.8 471.6,476.1 C471.7,479.4 471.4,482.6 471.0,486.0 C470.6,489.4 469.9,493.4 469.1,496.4 C468.3,499.4 467.3,501.5 466.0,504.0 C464.7,506.5 463.2,509.3 461.5,511.6 C459.8,513.9 457.6,516.1 455.5,518.0 C453.4,519.9 451.2,521.6 448.8,523.0 C446.4,524.4 443.5,525.6 441.0,526.5 C438.5,527.4 436.1,527.9 433.6,528.1 C431.1,528.4 428.0,528.4 426.0,528.0 C424.0,527.6 422.6,527.0 421.5,526.0 C420.4,525.0 420.2,522.0 419.6,522.0 C419.0,522.0 418.8,525.0 417.7,526.0 C416.6,527.0 415.2,527.6 413.2,528.0 C411.2,528.4 408.2,528.4 405.7,528.1 C403.2,527.9 400.8,527.4 398.2,526.5 C395.6,525.6 392.8,524.4 390.4,523.0 C388.0,521.6 385.8,519.9 383.7,518.0 C381.6,516.1 379.4,513.9 377.7,511.6 C375.9,509.3 374.5,506.5 373.2,504.0 C371.9,501.5 370.9,499.4 370.1,496.4 C369.3,493.4 368.6,489.4 368.2,486.0 C367.8,482.6 367.5,479.4 367.6,476.1 C367.7,472.8 368.3,469.0 368.9,466.0 C369.5,463.0 370.6,460.6 371.4,458.3 C372.2,456.1 372.8,454.1 373.7,452.5 C374.6,450.9 375.5,449.8 376.7,449.0 C377.9,448.2 379.1,447.8 380.7,447.5 C382.3,447.2 385.7,447.5 386.2,447.0 C386.7,446.5 384.7,445.2 383.7,444.5 C382.7,443.8 380.7,443.6 380.2,442.5 C379.7,441.4 380.6,440.1 380.7,438.0 C380.8,435.9 380.8,432.5 380.9,430.0 C381.0,427.5 380.8,425.1 381.5,422.8 C382.2,420.5 383.7,417.9 385.2,416.0 C386.7,414.1 388.2,412.7 390.4,411.4 C392.6,410.1 395.7,408.8 398.2,408.0 C400.7,407.2 403.1,407.0 405.6,406.8 C408.1,406.6 410.9,406.6 413.2,407.0 C415.5,407.4 417.5,409.5 419.6,409.5Z" fill="none" stroke="#868686" stroke-width="13" filter="url(#bl1)"/>
<path d="M419.6,409.5 L419.9,419.4 M426.5,407.0 L422.8,415.5 M433.9,406.8 L431.6,416.7 M441.1,408.1 L440.1,417.6 M447.9,411.0 L442.0,420.9 M453.6,415.6 L451.4,423.5 M457.3,422.0 L453.0,432.8 M458.2,429.2 L453.3,433.2 M458.5,436.6 L446.6,441.3 M457.7,443.2 L448.7,448.2 M454.3,447.1 L450.1,451.6 M461.4,448.6 L455.7,451.4 M466.1,454.0 L459.5,458.0 M468.7,460.9 L460.6,465.5 M470.6,468.0 L458.7,469.0 M471.5,475.3 L461.1,474.1 M471.2,482.7 L460.9,480.2 M470.3,490.0 L462.8,487.3 M468.8,497.2 L460.2,487.4 M466.0,504.0 L458.9,495.6 M462.2,510.4 L456.1,505.9 M457.4,515.9 L452.6,511.6 M451.9,520.7 L448.6,512.5 M445.5,524.5 L443.8,515.9 M438.7,527.0 L438.6,515.1 M431.4,528.1 L427.5,521.7 M424.2,527.2 L426.1,518.1 M419.6,522.0 L422.5,513.7 M415.0,527.2 L412.7,517.0 M407.8,528.1 L410.8,520.8 M400.5,527.0 L400.8,518.7 M393.7,524.5 L401.5,516.3 M387.3,520.7 L389.6,513.3 M381.8,515.9 L384.3,510.1 M377.0,510.4 L383.1,506.6 M373.2,504.0 L380.8,498.9 M370.4,497.2 L378.8,489.9 M368.9,490.0 L377.4,483.8 M368.0,482.7 L375.8,478.3 M367.7,475.3 L375.2,473.0 M368.6,468.0 L379.5,472.2 M370.5,460.9 L382.7,461.5 M373.1,454.0 L381.8,455.1 M377.8,448.6 L385.7,455.5 M384.9,447.1 L397.3,451.0 M381.5,443.2 L388.6,446.3 M380.7,436.6 L385.9,443.1 M381.0,429.2 L386.1,433.3 M381.9,422.0 L390.1,427.8 M385.6,415.6 L392.5,423.2 M391.3,411.0 L396.0,418.9 M398.1,408.1 L398.2,417.4 M405.3,406.8 L407.4,418.7 M412.7,407.0 L415.0,413.7" stroke="#6a6a6a" stroke-width="4.8" fill="none" stroke-linecap="round" filter="url(#bl1)"/>
<path d="M422.8,412.1 L422.5,418.7 M429.6,410.6 L428.5,417.3 M436.7,410.4 L434.6,417.5 M443.4,412.3 L440.5,419.2 M449.0,416.6 L445.7,422.5 M453.2,422.0 L449.4,427.4 M455.8,427.9 L450.9,433.6 M455.5,435.7 L450.8,440.2 M455.1,442.3 L449.8,446.4 M453.1,447.2 L447.3,451.1 M455.0,449.5 L448.8,453.1 M461.1,452.4 L454.1,455.4 M464.6,458.2 L457.2,460.1 M465.7,464.9 L459.2,465.6 M467.9,471.6 L460.5,471.3 M467.8,478.4 L461.0,477.2 M467.8,485.4 L460.7,483.1 M466.1,492.0 L460.0,489.1 M464.4,498.7 L458.5,494.9 M461.7,505.2 L456.0,500.5 M457.8,511.0 L452.7,505.5 M452.5,515.4 L448.5,509.8 M447.3,520.1 L443.6,513.4 M440.9,522.9 L438.2,516.0 M434.1,524.2 L432.3,517.4 M427.3,523.8 L426.3,517.2 M421.7,521.1 L421.5,514.1 M417.4,521.5 L417.7,514.1 M412.0,523.8 L412.9,517.2 M405.0,524.6 L406.9,517.4 M398.2,523.1 L401.0,516.0 M392.0,519.9 L395.6,513.4 M386.5,515.6 L390.7,509.8 M381.3,511.1 L386.5,505.5 M377.4,505.3 L383.2,500.5 M374.6,498.9 L380.7,494.9 M372.8,492.1 L379.2,489.1 M371.3,485.4 L378.5,483.1 M371.0,478.5 L378.2,477.2 M372.0,471.6 L378.7,471.3 M373.5,464.9 L380.0,465.6 M375.3,458.4 L382.0,460.1 M378.8,452.7 L385.1,455.4 M384.4,449.6 L390.4,453.1 M385.7,446.8 L391.9,451.1 M383.3,441.7 L389.4,446.4 M382.9,434.9 L388.4,440.2 M384.0,428.6 L388.3,433.6 M385.9,421.8 L389.8,427.4 M390.4,416.8 L393.5,422.5 M395.8,412.1 L398.7,419.2 M402.7,410.9 L404.6,417.5 M409.6,410.2 L410.7,417.3 M416.4,411.9 L416.7,418.7" stroke="#eaeaea" stroke-width="1.8" fill="none" stroke-linecap="round" opacity="0.9" filter="url(#bl05)"/>
<path d="M419.6,409.5 L419.9,419.4 M426.5,407.0 L422.8,415.5 M433.9,406.8 L431.6,416.7 M441.1,408.1 L440.1,417.6 M447.9,411.0 L442.0,420.9 M453.6,415.6 L451.4,423.5 M457.3,422.0 L453.0,432.8 M458.2,429.2 L453.3,433.2 M458.5,436.6 L446.6,441.3 M457.7,443.2 L448.7,448.2 M454.3,447.1 L450.1,451.6 M461.4,448.6 L455.7,451.4 M466.1,454.0 L459.5,458.0 M468.7,460.9 L460.6,465.5 M470.6,468.0 L458.7,469.0 M471.5,475.3 L461.1,474.1 M471.2,482.7 L460.9,480.2 M470.3,490.0 L462.8,487.3 M468.8,497.2 L460.2,487.4 M466.0,504.0 L458.9,495.6 M462.2,510.4 L456.1,505.9 M457.4,515.9 L452.6,511.6 M451.9,520.7 L448.6,512.5 M445.5,524.5 L443.8,515.9 M438.7,527.0 L438.6,515.1 M431.4,528.1 L427.5,521.7 M424.2,527.2 L426.1,518.1 M419.6,522.0 L422.5,513.7 M415.0,527.2 L412.7,517.0 M407.8,528.1 L410.8,520.8 M400.5,527.0 L400.8,518.7 M393.7,524.5 L401.5,516.3 M387.3,520.7 L389.6,513.3 M381.8,515.9 L384.3,510.1 M377.0,510.4 L383.1,506.6 M373.2,504.0 L380.8,498.9 M370.4,497.2 L378.8,489.9 M368.9,490.0 L377.4,483.8 M368.0,482.7 L375.8,478.3 M367.7,475.3 L375.2,473.0 M368.6,468.0 L379.5,472.2 M370.5,460.9 L382.7,461.5 M373.1,454.0 L381.8,455.1 M377.8,448.6 L385.7,455.5 M384.9,447.1 L397.3,451.0 M381.5,443.2 L388.6,446.3 M380.7,436.6 L385.9,443.1 M381.0,429.2 L386.1,433.3 M381.9,422.0 L390.1,427.8 M385.6,415.6 L392.5,423.2 M391.3,411.0 L396.0,418.9 M398.1,408.1 L398.2,417.4 M405.3,406.8 L407.4,418.7 M412.7,407.0 L415.0,413.7" stroke="#262626" stroke-width="1.1" fill="none" stroke-linecap="round"/>
</g>
<g clip-path="url(#cs1)">
<ellipse cx="419.6" cy="462" rx="20" ry="17" fill="#b6b6b6" filter="url(#bl2)"/>
<ellipse cx="404" cy="452" rx="6" ry="9" fill="#a2a2a2" filter="url(#bl1)" transform="rotate(25 404 452)"/>
<ellipse cx="435" cy="452" rx="6" ry="9" fill="#a2a2a2" filter="url(#bl1)" transform="rotate(-25 435 452)"/>
<path d="M397,446 C402,454 406,459 412,462" stroke="#777" stroke-width="1.6" fill="none" filter="url(#bl05)"/>
<path d="M442,446 C437,454 433,459 427,462" stroke="#777" stroke-width="1.6" fill="none" filter="url(#bl05)"/>
<ellipse cx="398" cy="494" rx="6" ry="15" fill="#6a6a6a" filter="url(#bl2)" transform="rotate(-15 398 494)"/>
<ellipse cx="441" cy="494" rx="6" ry="15" fill="#6a6a6a" filter="url(#bl2)" transform="rotate(15 441 494)"/>
<circle cx="394.8" cy="430.7" r="3.5" fill="#707070" filter="url(#bl1)"/>
<circle cx="441.5" cy="430.7" r="3.5" fill="#707070" filter="url(#bl1)"/>
<circle cx="412.3" cy="425" r="2.5" fill="#707070" filter="url(#bl1)"/>
<circle cx="427" cy="425" r="2.5" fill="#707070" filter="url(#bl1)"/>
<circle cx="388" cy="450" r="2.5" fill="#707070" filter="url(#bl1)"/>
<circle cx="451" cy="450" r="2.5" fill="#707070" filter="url(#bl1)"/>
<path d="M378,470 C384,468 390,470 394,474" stroke="#3a3a3a" stroke-width="1.3" fill="none" filter="url(#bl05)"/>
<path d="M378,470 C384,468 390,470 394,474" stroke="#6a6a6a" stroke-width="4" fill="none" opacity="0.6" filter="url(#bl1)"/>
<path d="M461,470 C455,468 449,470 445,474" stroke="#3a3a3a" stroke-width="1.3" fill="none" filter="url(#bl05)"/>
<path d="M461,470 C455,468 449,470 445,474" stroke="#6a6a6a" stroke-width="4" fill="none" opacity="0.6" filter="url(#bl1)"/>
<path d="M376,488 C381,487 386,490 389,494" stroke="#3a3a3a" stroke-width="1.3" fill="none" filter="url(#bl05)"/>
<path d="M376,488 C381,487 386,490 389,494" stroke="#6a6a6a" stroke-width="4" fill="none" opacity="0.6" filter="url(#bl1)"/>
<path d="M463,488 C458,487 453,490 450,494" stroke="#3a3a3a" stroke-width="1.3" fill="none" filter="url(#bl05)"/>
<path d="M463,488 C458,487 453,490 450,494" stroke="#6a6a6a" stroke-width="4" fill="none" opacity="0.6" filter="url(#bl1)"/>
<path d="M392,512 C396,506 400,503 404,500" stroke="#3a3a3a" stroke-width="1.3" fill="none" filter="url(#bl05)"/>
<path d="M392,512 C396,506 400,503 404,500" stroke="#6a6a6a" stroke-width="4" fill="none" opacity="0.6" filter="url(#bl1)"/>
<path d="M447,512 C443,506 439,503 435,500" stroke="#3a3a3a" stroke-width="1.3" fill="none" filter="url(#bl05)"/>
<path d="M447,512 C443,506 439,503 435,500" stroke="#6a6a6a" stroke-width="4" fill="none" opacity="0.6" filter="url(#bl1)"/>
<path d="M385,505 C389,501 392,498 394,494" stroke="#3a3a3a" stroke-width="1.3" fill="none" filter="url(#bl05)"/>
<path d="M385,505 C389,501 392,498 394,494" stroke="#6a6a6a" stroke-width="4" fill="none" opacity="0.6" filter="url(#bl1)"/>
<path d="M454,505 C450,501 447,498 445,494" stroke="#3a3a3a" stroke-width="1.3" fill="none" filter="url(#bl05)"/>
<path d="M454,505 C450,501 447,498 445,494" stroke="#6a6a6a" stroke-width="4" fill="none" opacity="0.6" filter="url(#bl1)"/>
<path d="M402,520 C404,514 407,512 410,510" stroke="#3a3a3a" stroke-width="1.3" fill="none" filter="url(#bl05)"/>
<path d="M402,520 C404,514 407,512 410,510" stroke="#6a6a6a" stroke-width="4" fill="none" opacity="0.6" filter="url(#bl1)"/>
<path d="M437,520 C435,514 432,512 429,510" stroke="#3a3a3a" stroke-width="1.3" fill="none" filter="url(#bl05)"/>
<path d="M437,520 C435,514 432,512 429,510" stroke="#6a6a6a" stroke-width="4" fill="none" opacity="0.6" filter="url(#bl1)"/>
<ellipse cx="400.0" cy="515" rx="5" ry="4" transform="rotate(20 400.0 515)" fill="#8c8c8c" filter="url(#bl1)"/>
<ellipse cx="410.0" cy="519" rx="4" ry="5" transform="rotate(0 410.0 519)" fill="#8c8c8c" filter="url(#bl1)"/>
<ellipse cx="393.0" cy="508" rx="4" ry="3" transform="rotate(40 393.0 508)" fill="#8c8c8c" filter="url(#bl1)"/>
<ellipse cx="405.0" cy="506" rx="3" ry="3" transform="rotate(0 405.0 506)" fill="#8c8c8c" filter="url(#bl1)"/>
<path d="M398.0,512 C402.0,516 406.0,518 410.0,516" stroke="#2e2e2e" stroke-width="1.1" fill="none"/>
<path d="M408.0,506 C410.0,510 413.0,513 415.0,518" stroke="#2e2e2e" stroke-width="1.1" fill="none"/>
<ellipse cx="439.20000000000005" cy="515" rx="5" ry="4" transform="rotate(-20 439.20000000000005 515)" fill="#8c8c8c" filter="url(#bl1)"/>
<ellipse cx="429.20000000000005" cy="519" rx="4" ry="5" transform="rotate(0 429.20000000000005 519)" fill="#8c8c8c" filter="url(#bl1)"/>
<ellipse cx="446.20000000000005" cy="508" rx="4" ry="3" transform="rotate(-40 446.20000000000005 508)" fill="#8c8c8c" filter="url(#bl1)"/>
<ellipse cx="434.20000000000005" cy="506" rx="3" ry="3" transform="rotate(0 434.20000000000005 506)" fill="#8c8c8c" filter="url(#bl1)"/>
<path d="M441.20000000000005,512 C437.20000000000005,516 433.20000000000005,518 429.20000000000005,516" stroke="#2e2e2e" stroke-width="1.1" fill="none"/>
<path d="M431.20000000000005,506 C429.20000000000005,510 426.20000000000005,513 424.20000000000005,518" stroke="#2e2e2e" stroke-width="1.1" fill="none"/>
<path d="M403.3,477.4 C410,479 413,483 413.3,495 C414,503 416,508 419.6,510 C423,508 425,503 426,495 C426.5,483 429,479 436,477.4 C431,476 425,478 422,481 L419.6,484 L417,481 C414,478 408,476 403.3,477.4 Z" fill="#fafafa"/>
<path d="M411,489 C411,485 415,483 419.6,484.5 C424,483 428,485 428,489 C428,499 425,505 419.6,507 C414,505 411,499 411,489 Z" fill="#6e6e6e"/>
<path d="M412,490 Q419.6,493 427,490" stroke="#a8a8a8" stroke-width="1" fill="none"/>
<path d="M412,494 Q419.6,497 427,494" stroke="#a8a8a8" stroke-width="1" fill="none"/>
<path d="M412,498 Q419.6,501 427,498" stroke="#a8a8a8" stroke-width="1" fill="none"/>
<path d="M412,502 Q419.6,505 427,502" stroke="#a8a8a8" stroke-width="1" fill="none"/>
<path d="M411,489 C411,485 415,483 419.6,484.5 C424,483 428,485 428,489 C428,499 425,505 419.6,507 C414,505 411,499 411,489 Z" fill="none" stroke="#333" stroke-width="0.8"/>
<path d="M403.3,477.4 C410,479 413,483 413.3,495 C414,503 416,508 419.6,510 C423,508 425,503 426,495 C426.5,483 429,479 436,477.4" fill="none" stroke="#333" stroke-width="0.7"/>
<circle cx="419.6" cy="478" r="1.2" fill="#555"/>
<line x1="419.6" y1="408" x2="419.6" y2="468" stroke="#5a5a5a" stroke-width="2.6" filter="url(#bl05)"/>
<line x1="419.6" y1="410" x2="419.6" y2="466" stroke="#f4f4f4" stroke-width="0.7" stroke-dasharray="1.6,1.4"/>
<line x1="419.6" y1="512" x2="419.6" y2="528" stroke="#4a4a4a" stroke-width="2" filter="url(#bl05)"/>
</g>
<path d="M419.6,409.5 C421.7,409.5 423.7,407.4 426.0,407.0 C428.3,406.6 431.1,406.6 433.6,406.8 C436.1,407.0 438.5,407.2 441.0,408.0 C443.5,408.8 446.6,410.1 448.8,411.4 C451.0,412.7 452.5,414.1 454.0,416.0 C455.5,417.9 457.0,420.5 457.7,422.8 C458.4,425.1 458.2,427.5 458.3,430.0 C458.4,432.5 458.4,435.9 458.5,438.0 C458.6,440.1 459.5,441.4 459.0,442.5 C458.5,443.6 456.5,443.8 455.5,444.5 C454.5,445.2 452.5,446.5 453.0,447.0 C453.5,447.5 456.9,447.2 458.5,447.5 C460.1,447.8 461.3,448.2 462.5,449.0 C463.7,449.8 464.6,450.9 465.5,452.5 C466.4,454.1 467.0,456.1 467.8,458.3 C468.6,460.6 469.7,463.0 470.3,466.0 C470.9,469.0 471.5,472.8 471.6,476.1 C471.7,479.4 471.4,482.6 471.0,486.0 C470.6,489.4 469.9,493.4 469.1,496.4 C468.3,499.4 467.3,501.5 466.0,504.0 C464.7,506.5 463.2,509.3 461.5,511.6 C459.8,513.9 457.6,516.1 455.5,518.0 C453.4,519.9 451.2,521.6 448.8,523.0 C446.4,524.4 443.5,525.6 441.0,526.5 C438.5,527.4 436.1,527.9 433.6,528.1 C431.1,528.4 428.0,528.4 426.0,528.0 C424.0,527.6 422.6,527.0 421.5,526.0 C420.4,525.0 420.2,522.0 419.6,522.0 C419.0,522.0 418.8,525.0 417.7,526.0 C416.6,527.0 415.2,527.6 413.2,528.0 C411.2,528.4 408.2,528.4 405.7,528.1 C403.2,527.9 400.8,527.4 398.2,526.5 C395.6,525.6 392.8,524.4 390.4,523.0 C388.0,521.6 385.8,519.9 383.7,518.0 C381.6,516.1 379.4,513.9 377.7,511.6 C375.9,509.3 374.5,506.5 373.2,504.0 C371.9,501.5 370.9,499.4 370.1,496.4 C369.3,493.4 368.6,489.4 368.2,486.0 C367.8,482.6 367.5,479.4 367.6,476.1 C367.7,472.8 368.3,469.0 368.9,466.0 C369.5,463.0 370.6,460.6 371.4,458.3 C372.2,456.1 372.8,454.1 373.7,452.5 C374.6,450.9 375.5,449.8 376.7,449.0 C377.9,448.2 379.1,447.8 380.7,447.5 C382.3,447.2 385.7,447.5 386.2,447.0 C386.7,446.5 384.7,445.2 383.7,444.5 C382.7,443.8 380.7,443.6 380.2,442.5 C379.7,441.4 380.6,440.1 380.7,438.0 C380.8,435.9 380.8,432.5 380.9,430.0 C381.0,427.5 380.8,425.1 381.5,422.8 C382.2,420.5 383.7,417.9 385.2,416.0 C386.7,414.1 388.2,412.7 390.4,411.4 C392.6,410.1 395.7,408.8 398.2,408.0 C400.7,407.2 403.1,407.0 405.6,406.8 C408.1,406.6 410.9,406.6 413.2,407.0 C415.5,407.4 417.5,409.5 419.6,409.5Z" fill="none" stroke="#2a2a2a" stroke-width="0.8"/>
<clipPath id="cs2"><path d="M543.3,418.5 C548.0,418.3 550.9,417.4 556.0,419.0 C561.1,420.6 568.6,423.4 573.7,427.9 C578.8,432.3 583.2,438.9 586.4,445.7 C589.6,452.5 591.4,461.7 592.7,468.5 C594.0,475.3 594.4,480.0 594.0,486.3 C593.6,492.6 592.7,500.6 590.2,506.5 C587.7,512.4 583.7,517.8 578.8,521.8 C573.9,525.8 566.7,529.0 561.0,530.6 C555.3,532.2 550.4,531.7 544.5,531.5 C538.6,531.3 531.2,531.4 525.5,529.4 C519.8,527.4 514.7,523.4 510.3,519.2 C505.9,515.0 501.4,510.3 498.9,504.0 C496.4,497.7 494.9,488.8 495.1,481.2 C495.3,473.6 497.6,465.5 500.1,458.3 C502.6,451.1 505.7,444.3 510.3,438.0 C515.0,431.7 522.5,423.6 528.0,420.3 C533.5,417.1 538.6,418.7 543.3,418.5Z"/></clipPath>
<path d="M543.3,418.5 C548.0,418.3 550.9,417.4 556.0,419.0 C561.1,420.6 568.6,423.4 573.7,427.9 C578.8,432.3 583.2,438.9 586.4,445.7 C589.6,452.5 591.4,461.7 592.7,468.5 C594.0,475.3 594.4,480.0 594.0,486.3 C593.6,492.6 592.7,500.6 590.2,506.5 C587.7,512.4 583.7,517.8 578.8,521.8 C573.9,525.8 566.7,529.0 561.0,530.6 C555.3,532.2 550.4,531.7 544.5,531.5 C538.6,531.3 531.2,531.4 525.5,529.4 C519.8,527.4 514.7,523.4 510.3,519.2 C505.9,515.0 501.4,510.3 498.9,504.0 C496.4,497.7 494.9,488.8 495.1,481.2 C495.3,473.6 497.6,465.5 500.1,458.3 C502.6,451.1 505.7,444.3 510.3,438.0 C515.0,431.7 522.5,423.6 528.0,420.3 C533.5,417.1 538.6,418.7 543.3,418.5Z" fill="#eeeeee"/>
<g clip-path="url(#cs2)">
<path d="M543.3,418.5 C548.0,418.3 550.9,417.4 556.0,419.0 C561.1,420.6 568.6,423.4 573.7,427.9 C578.8,432.3 583.2,438.9 586.4,445.7 C589.6,452.5 591.4,461.7 592.7,468.5 C594.0,475.3 594.4,480.0 594.0,486.3 C593.6,492.6 592.7,500.6 590.2,506.5 C587.7,512.4 583.7,517.8 578.8,521.8 C573.9,525.8 566.7,529.0 561.0,530.6 C555.3,532.2 550.4,531.7 544.5,531.5 C538.6,531.3 531.2,531.4 525.5,529.4 C519.8,527.4 514.7,523.4 510.3,519.2 C505.9,515.0 501.4,510.3 498.9,504.0 C496.4,497.7 494.9,488.8 495.1,481.2 C495.3,473.6 497.6,465.5 500.1,458.3 C502.6,451.1 505.7,444.3 510.3,438.0 C515.0,431.7 522.5,423.6 528.0,420.3 C533.5,417.1 538.6,418.7 543.3,418.5Z" fill="none" stroke="#929292" stroke-width="11" filter="url(#bl1)"/>
<path d="M543.3,418.5 L542.6,428.9 M549.1,418.7 L545.8,429.9 M554.9,419.0 L551.0,429.8 M560.3,421.1 L560.7,429.9 M565.5,423.8 L559.1,431.3 M570.7,426.4 L566.0,431.2 M575.1,429.9 L571.1,436.2 M578.5,434.6 L572.2,441.7 M581.9,439.4 L578.6,445.9 M585.3,444.1 L577.3,452.4 M587.4,449.5 L580.9,451.8 M589.0,455.1 L582.3,456.5 M590.5,460.7 L583.9,462.2 M592.1,466.3 L582.4,472.0 M593.0,472.0 L585.9,473.9 M593.4,477.9 L583.0,473.5 M593.8,483.7 L582.0,483.4 M593.4,489.4 L583.8,486.3 M592.3,495.2 L580.9,492.9 M591.3,500.9 L581.8,493.9 M590.1,506.6 L585.2,500.6 M586.6,511.3 L580.9,507.2 M583.2,515.9 L577.8,512.5 M579.7,520.6 L572.8,513.9 M574.9,523.7 L567.0,517.5 M569.7,526.3 L565.4,519.7 M564.4,528.9 L563.3,520.1 M559.0,530.7 L555.7,522.5 M553.2,531.0 L553.1,524.7 M547.4,531.3 L549.1,525.4 M541.6,531.2 L544.1,520.4 M535.8,530.5 L533.8,520.0 M530.0,529.9 L531.5,520.6 M524.4,528.7 L524.5,522.4 M519.6,525.4 L522.3,514.0 M514.7,522.2 L518.4,512.3 M510.0,518.8 L519.6,512.2 M506.5,514.1 L511.5,507.7 M503.0,509.5 L511.3,502.8 M499.5,504.8 L506.4,496.9 M498.1,499.3 L508.9,496.2 M497.2,493.5 L506.1,486.0 M496.2,487.8 L503.1,483.6 M495.2,482.0 L506.7,481.3 M496.2,476.3 L507.6,474.7 M497.4,470.6 L505.2,471.6 M498.7,464.9 L505.7,465.5 M499.9,459.2 L506.8,459.5 M502.3,453.9 L512.2,460.7 M504.9,448.7 L510.8,450.9 M507.5,443.5 L512.1,451.5 M510.1,438.3 L515.6,443.4 M514.2,434.1 L520.1,443.3 M518.3,430.0 L522.8,437.2 M522.4,425.9 L530.1,434.4 M526.5,421.8 L532.0,428.9 M531.7,419.9 L531.7,426.6 M537.5,419.2 L537.1,430.9" stroke="#6a6a6a" stroke-width="4.8" fill="none" stroke-linecap="round" filter="url(#bl1)"/>
<path d="M546.1,422.2 L545.9,428.1 M551.5,422.6 L550.8,428.3 M556.9,422.9 L555.4,429.3 M561.8,425.6 L559.7,431.4 M566.8,427.8 L564.0,433.7 M570.9,431.4 L568.0,436.3 M574.9,434.8 L571.1,439.8 M577.9,439.4 L573.7,443.9 M580.5,444.3 L576.3,447.9 M583.2,448.9 L578.5,452.1 M584.7,454.1 L579.8,456.6 M586.6,459.1 L580.9,461.2 M588.0,464.3 L582.1,465.8 M588.9,469.6 L583.1,470.3 M589.8,475.0 L583.7,475.0 M590.5,480.4 L584.2,479.7 M590.4,485.8 L584.4,484.4 M590.1,491.3 L583.9,489.1 M588.9,496.6 L583.3,493.9 M587.3,501.6 L582.6,498.7 M585.3,506.5 L580.9,503.1 M582.3,511.2 L578.0,507.0 M579.2,515.7 L575.3,511.1 M575.5,519.5 L571.9,514.4 M570.9,522.5 L567.7,516.7 M565.8,524.7 L563.3,518.9 M560.6,526.2 L558.9,520.7 M555.3,527.1 L554.2,521.6 M550.0,528.0 L549.3,521.7 M544.5,527.5 L544.5,521.8 M539.1,527.1 L539.7,521.4 M533.6,526.7 L534.8,520.9 M528.3,525.9 L530.1,520.2 M523.5,523.6 L525.8,518.3 M518.7,521.0 L521.8,515.5 M514.5,517.5 L517.9,512.7 M510.3,514.1 L514.5,509.3 M507.2,509.5 L511.7,505.4 M504.3,504.9 L508.9,501.5 M501.9,500.2 L507.0,497.2 M500.5,495.1 L506.3,492.4 M500.4,489.4 L505.7,487.7 M499.2,484.2 L505.0,483.0 M499.2,478.9 L505.2,478.4 M499.6,473.6 L506.3,473.8 M501.4,468.3 L507.4,469.2 M502.3,462.9 L508.4,464.7 M504.4,458.0 L509.8,460.3 M506.5,453.0 L511.8,456.1 M509.2,448.4 L513.8,451.9 M511.4,443.4 L515.7,447.5 M514.6,439.1 L518.2,443.5 M518.0,434.8 L521.5,440.0 M522.0,431.1 L524.7,436.4 M525.8,427.3 L527.9,432.7 M530.2,424.5 L531.7,430.0 M535.2,422.7 L536.3,428.9 M540.7,422.6 L541.1,428.3" stroke="#eeeeee" stroke-width="1.8" fill="none" stroke-linecap="round" opacity="0.9" filter="url(#bl05)"/>
<path d="M543.3,418.5 L542.6,428.9 M549.1,418.7 L545.8,429.9 M554.9,419.0 L551.0,429.8 M560.3,421.1 L560.7,429.9 M565.5,423.8 L559.1,431.3 M570.7,426.4 L566.0,431.2 M575.1,429.9 L571.1,436.2 M578.5,434.6 L572.2,441.7 M581.9,439.4 L578.6,445.9 M585.3,444.1 L577.3,452.4 M587.4,449.5 L580.9,451.8 M589.0,455.1 L582.3,456.5 M590.5,460.7 L583.9,462.2 M592.1,466.3 L582.4,472.0 M593.0,472.0 L585.9,473.9 M593.4,477.9 L583.0,473.5 M593.8,483.7 L582.0,483.4 M593.4,489.4 L583.8,486.3 M592.3,495.2 L580.9,492.9 M591.3,500.9 L581.8,493.9 M590.1,506.6 L585.2,500.6 M586.6,511.3 L580.9,507.2 M583.2,515.9 L577.8,512.5 M579.7,520.6 L572.8,513.9 M574.9,523.7 L567.0,517.5 M569.7,526.3 L565.4,519.7 M564.4,528.9 L563.3,520.1 M559.0,530.7 L555.7,522.5 M553.2,531.0 L553.1,524.7 M547.4,531.3 L549.1,525.4 M541.6,531.2 L544.1,520.4 M535.8,530.5 L533.8,520.0 M530.0,529.9 L531.5,520.6 M524.4,528.7 L524.5,522.4 M519.6,525.4 L522.3,514.0 M514.7,522.2 L518.4,512.3 M510.0,518.8 L519.6,512.2 M506.5,514.1 L511.5,507.7 M503.0,509.5 L511.3,502.8 M499.5,504.8 L506.4,496.9 M498.1,499.3 L508.9,496.2 M497.2,493.5 L506.1,486.0 M496.2,487.8 L503.1,483.6 M495.2,482.0 L506.7,481.3 M496.2,476.3 L507.6,474.7 M497.4,470.6 L505.2,471.6 M498.7,464.9 L505.7,465.5 M499.9,459.2 L506.8,459.5 M502.3,453.9 L512.2,460.7 M504.9,448.7 L510.8,450.9 M507.5,443.5 L512.1,451.5 M510.1,438.3 L515.6,443.4 M514.2,434.1 L520.1,443.3 M518.3,430.0 L522.8,437.2 M522.4,425.9 L530.1,434.4 M526.5,421.8 L532.0,428.9 M531.7,419.9 L531.7,426.6 M537.5,419.2 L537.1,430.9" stroke="#262626" stroke-width="1.1" fill="none" stroke-linecap="round"/>
</g>
<g clip-path="url(#cs2)">
<ellipse cx="544.5" cy="476" rx="20" ry="36" fill="#d8d8d8" filter="url(#bl3)"/>
<line x1="544.3" y1="418" x2="544.3" y2="532" stroke="#7a7a7a" stroke-width="6" filter="url(#bl1)"/>
<line x1="544.3" y1="418" x2="544.3" y2="532" stroke="#2a2a2a" stroke-width="1.8"/>
<line x1="544.3" y1="420" x2="544.3" y2="530" stroke="#f0f0f0" stroke-width="0.6" stroke-dasharray="1.5,1.5"/>
<path d="M538,440 C540,445 541,450 541,456" stroke="#3a3a3a" stroke-width="1.2" fill="none" filter="url(#bl05)"/>
<path d="M538,440 C540,445 541,450 541,456" stroke="#6a6a6a" stroke-width="4" fill="none" opacity="0.6" filter="url(#bl1)"/>
<path d="M551,440 C549,445 548,450 548,456" stroke="#3a3a3a" stroke-width="1.2" fill="none" filter="url(#bl05)"/>
<path d="M551,440 C549,445 548,450 548,456" stroke="#6a6a6a" stroke-width="4" fill="none" opacity="0.6" filter="url(#bl1)"/>
<path d="M538,505 C540,510 541,515 541,520" stroke="#3a3a3a" stroke-width="1.2" fill="none" filter="url(#bl05)"/>
<path d="M538,505 C540,510 541,515 541,520" stroke="#6a6a6a" stroke-width="4" fill="none" opacity="0.6" filter="url(#bl1)"/>
<path d="M551,505 C549,510 548,515 548,520" stroke="#3a3a3a" stroke-width="1.2" fill="none" filter="url(#bl05)"/>
<path d="M551,505 C549,510 548,515 548,520" stroke="#6a6a6a" stroke-width="4" fill="none" opacity="0.6" filter="url(#bl1)"/>
</g>
<path d="M543.3,418.5 C548.0,418.3 550.9,417.4 556.0,419.0 C561.1,420.6 568.6,423.4 573.7,427.9 C578.8,432.3 583.2,438.9 586.4,445.7 C589.6,452.5 591.4,461.7 592.7,468.5 C594.0,475.3 594.4,480.0 594.0,486.3 C593.6,492.6 592.7,500.6 590.2,506.5 C587.7,512.4 583.7,517.8 578.8,521.8 C573.9,525.8 566.7,529.0 561.0,530.6 C555.3,532.2 550.4,531.7 544.5,531.5 C538.6,531.3 531.2,531.4 525.5,529.4 C519.8,527.4 514.7,523.4 510.3,519.2 C505.9,515.0 501.4,510.3 498.9,504.0 C496.4,497.7 494.9,488.8 495.1,481.2 C495.3,473.6 497.6,465.5 500.1,458.3 C502.6,451.1 505.7,444.3 510.3,438.0 C515.0,431.7 522.5,423.6 528.0,420.3 C533.5,417.1 538.6,418.7 543.3,418.5Z" fill="none" stroke="#2a2a2a" stroke-width="0.8"/>
<path d="M418.9,416.5 C419.9,416.1 421.0,416.1 422.0,416.8 C423.0,417.6 424.3,419.6 424.7,421.0 C425.1,422.4 424.7,424.1 424.2,425.5 C423.7,426.9 422.4,428.8 421.5,429.3 C420.6,429.8 419.6,429.1 418.5,428.5 C417.4,427.9 415.8,427.1 415.0,426.0 C414.2,424.9 413.6,423.2 413.8,422.0 C414.0,420.8 415.1,419.9 416.0,419.0 C416.9,418.1 417.9,416.9 418.9,416.5Z" fill="#10e020"/>
<path d="M381.0,438.0 C381.1,436.9 382.3,434.9 383.1,434.4 C383.9,433.9 385.0,434.8 386.0,435.0 C387.0,435.2 388.0,435.3 389.0,435.8 C390.0,436.3 390.8,437.3 391.9,438.0 C393.0,438.7 394.8,439.0 395.5,440.2 C396.2,441.4 396.7,444.3 396.3,445.3 C395.9,446.3 394.4,446.5 393.4,446.0 C392.4,445.5 391.6,443.1 390.4,442.4 C389.2,441.6 387.3,441.7 386.0,441.5 C384.7,441.3 383.3,441.6 382.5,441.0 C381.7,440.4 380.9,439.1 381.0,438.0Z" fill="#10e020"/>
<path d="M443.7,441.7 C443.9,440.1 444.5,437.9 445.9,436.6 C447.2,435.3 450.0,434.1 451.8,434.0 C453.6,433.9 455.9,434.9 456.9,435.8 C457.9,436.7 457.9,438.4 457.6,439.5 C457.4,440.6 456.9,441.4 455.4,442.4 C453.9,443.4 450.6,444.6 448.8,445.3 C447.0,446.0 445.4,447.1 444.5,446.5 C443.6,445.9 443.5,443.3 443.7,441.7Z" fill="#10e020"/>
<path d="M444.0,439.5 C444.4,438.3 445.8,437.8 446.5,438.0 C447.2,438.2 448.2,439.8 448.3,441.0 C448.4,442.2 448.0,444.3 447.3,445.0 C446.6,445.7 444.8,445.9 444.2,445.0 C443.6,444.1 443.6,440.7 444.0,439.5Z" fill="#f0f000"/>
<path d="M448.8,440.5 C449.2,439.8 451.4,439.4 452.5,439.5 C453.6,439.6 455.1,440.3 455.4,441.0 C455.7,441.7 455.4,443.4 454.5,443.9 C453.6,444.4 450.9,444.5 450.0,443.9 C449.1,443.3 448.4,441.2 448.8,440.5Z" fill="#f010e0"/>
<path d="M374.5,474.5 C374.8,473.9 376.0,473.0 377.0,473.2 C378.0,473.4 379.5,474.8 380.5,475.5 C381.5,476.2 382.8,476.8 383.0,477.5 C383.2,478.2 382.3,479.8 381.5,480.0 C380.7,480.2 379.1,479.0 378.0,478.5 C376.9,478.0 375.6,477.7 375.0,477.0 C374.4,476.3 374.2,475.1 374.5,474.5Z" fill="#10e020"/>
<path d="M388.0,415.5 C388.5,414.7 390.3,413.8 391.5,413.8 C392.7,413.8 394.5,414.7 395.2,415.5 C395.9,416.3 396.1,418.0 395.5,418.8 C394.9,419.6 392.7,420.2 391.5,420.2 C390.3,420.1 389.1,419.3 388.5,418.5 C387.9,417.7 387.5,416.3 388.0,415.5Z" fill="#f010e0"/>
<circle cx="451.8" cy="511" r="0.9" fill="#f010e0"/>
<path d="M538.5,417.0 C539.2,415.9 542.4,416.0 543.5,416.5 C544.6,417.0 545.1,418.8 545.0,420.0 C544.9,421.2 544.0,423.5 543.0,424.0 C542.0,424.5 539.8,424.2 539.0,423.0 C538.2,421.8 537.8,418.1 538.5,417.0Z" fill="#10e020"/>
<path d="M547.0,422.0 C547.8,421.1 550.9,421.0 552.0,421.5 C553.1,422.0 553.8,423.7 553.5,425.0 C553.2,426.3 551.1,429.2 550.0,429.5 C548.9,429.8 547.5,428.2 547.0,427.0 C546.5,425.8 546.2,422.9 547.0,422.0Z" fill="#10e020"/>
<path d="M502.5,450.8 C503.3,450.6 506.8,451.1 507.5,451.5 C508.2,451.9 507.8,453.1 507.0,453.4 C506.2,453.6 503.6,453.4 502.8,453.0 C502.1,452.6 501.7,451.1 502.5,450.8Z" fill="#f010e0"/>
<path d="M501.5,498.0 C502.0,496.9 504.5,496.5 506.0,496.4 C507.5,496.3 510.0,496.7 510.3,497.5 C510.6,498.3 509.2,500.1 508.0,501.0 C506.8,501.9 504.1,503.2 503.0,502.7 C501.9,502.2 501.0,499.1 501.5,498.0Z" fill="#10e020"/>
<path d="M511.6,519.5 C511.9,518.8 513.9,518.3 514.5,518.7 C515.1,519.1 515.7,521.3 515.4,522.0 C515.1,522.7 513.1,523.4 512.5,523.0 C511.9,522.6 511.3,520.2 511.6,519.5Z" fill="#f010e0"/>
<circle cx="537" cy="528" r="1.2" fill="#f010e0"/>
<path d="M580.0,496.0 C580.5,495.0 582.6,494.0 584.0,493.9 C585.4,493.8 587.6,494.6 588.5,495.5 C589.4,496.4 589.9,498.6 589.5,499.5 C589.1,500.4 587.4,500.9 586.0,501.0 C584.6,501.1 582.0,500.8 581.0,500.0 C580.0,499.2 579.5,497.0 580.0,496.0Z" fill="#f010e0"/>
<path d="M579.0,500.5 C579.8,499.4 582.2,499.1 584.0,499.0 C585.8,498.9 589.0,499.2 590.0,500.0 C591.0,500.8 591.0,502.9 590.2,504.0 C589.4,505.1 586.8,506.2 585.0,506.5 C583.2,506.8 580.5,506.5 579.5,505.5 C578.5,504.5 578.2,501.6 579.0,500.5Z" fill="#10e020"/>
<path d="M581.5,499.0 C582.1,498.3 584.0,497.6 585.0,497.8 C586.0,498.1 587.7,499.7 587.7,500.5 C587.7,501.3 586.0,502.4 585.0,502.7 C584.0,502.9 582.1,502.6 581.5,502.0 C580.9,501.4 580.9,499.7 581.5,499.0Z" fill="#f0f000"/>
<line x1="456.7" y1="440" x2="474.9" y2="433.8" stroke="#111" stroke-width="0.9"/>
<text x="484.4" y="434.3" font-size="10.8" text-anchor="middle" fill="#262626" >rAI</text>
<line x1="594.3" y1="506" x2="609.4" y2="514.5" stroke="#111" stroke-width="0.9"/>
<text x="622.5" y="521.6" font-size="10.8" text-anchor="middle" fill="#262626" >rTPJ</text>
<text x="420.1" y="553.2" font-size="10.4" text-anchor="middle" fill="#262626"><tspan font-style="italic">Z</tspan> = −8</text>
<text x="545.2" y="551.4" font-size="10.4" text-anchor="middle" fill="#262626"><tspan font-style="italic">Z</tspan> = 30</text>
<clipPath id="cvg"><ellipse cx="624.2" cy="431.7" rx="22" ry="17.3"/></clipPath>
<ellipse cx="624.2" cy="431.7" rx="22" ry="17.3" fill="#0ee020"/>
<ellipse cx="648.2" cy="431.7" rx="22.3" ry="17.3" fill="#f00ce0"/>
<ellipse cx="648.2" cy="431.7" rx="22.3" ry="17.3" fill="#f8f000" clip-path="url(#cvg)"/>
<text x="626.9" y="409.7" font-size="10" text-anchor="middle" fill="#262626" textLength="49.6" lengthAdjust="spacingAndGlyphs" >Univariate</text>
<text x="635.8" y="434.4" font-size="10" text-anchor="middle" fill="#111" textLength="39.1" lengthAdjust="spacingAndGlyphs" >Overlap</text>
<text x="655.3" y="460.7" font-size="10" text-anchor="middle" fill="#262626" textLength="57.6" lengthAdjust="spacingAndGlyphs" >Multivariate</text>
</g>
</svg></body></html>
